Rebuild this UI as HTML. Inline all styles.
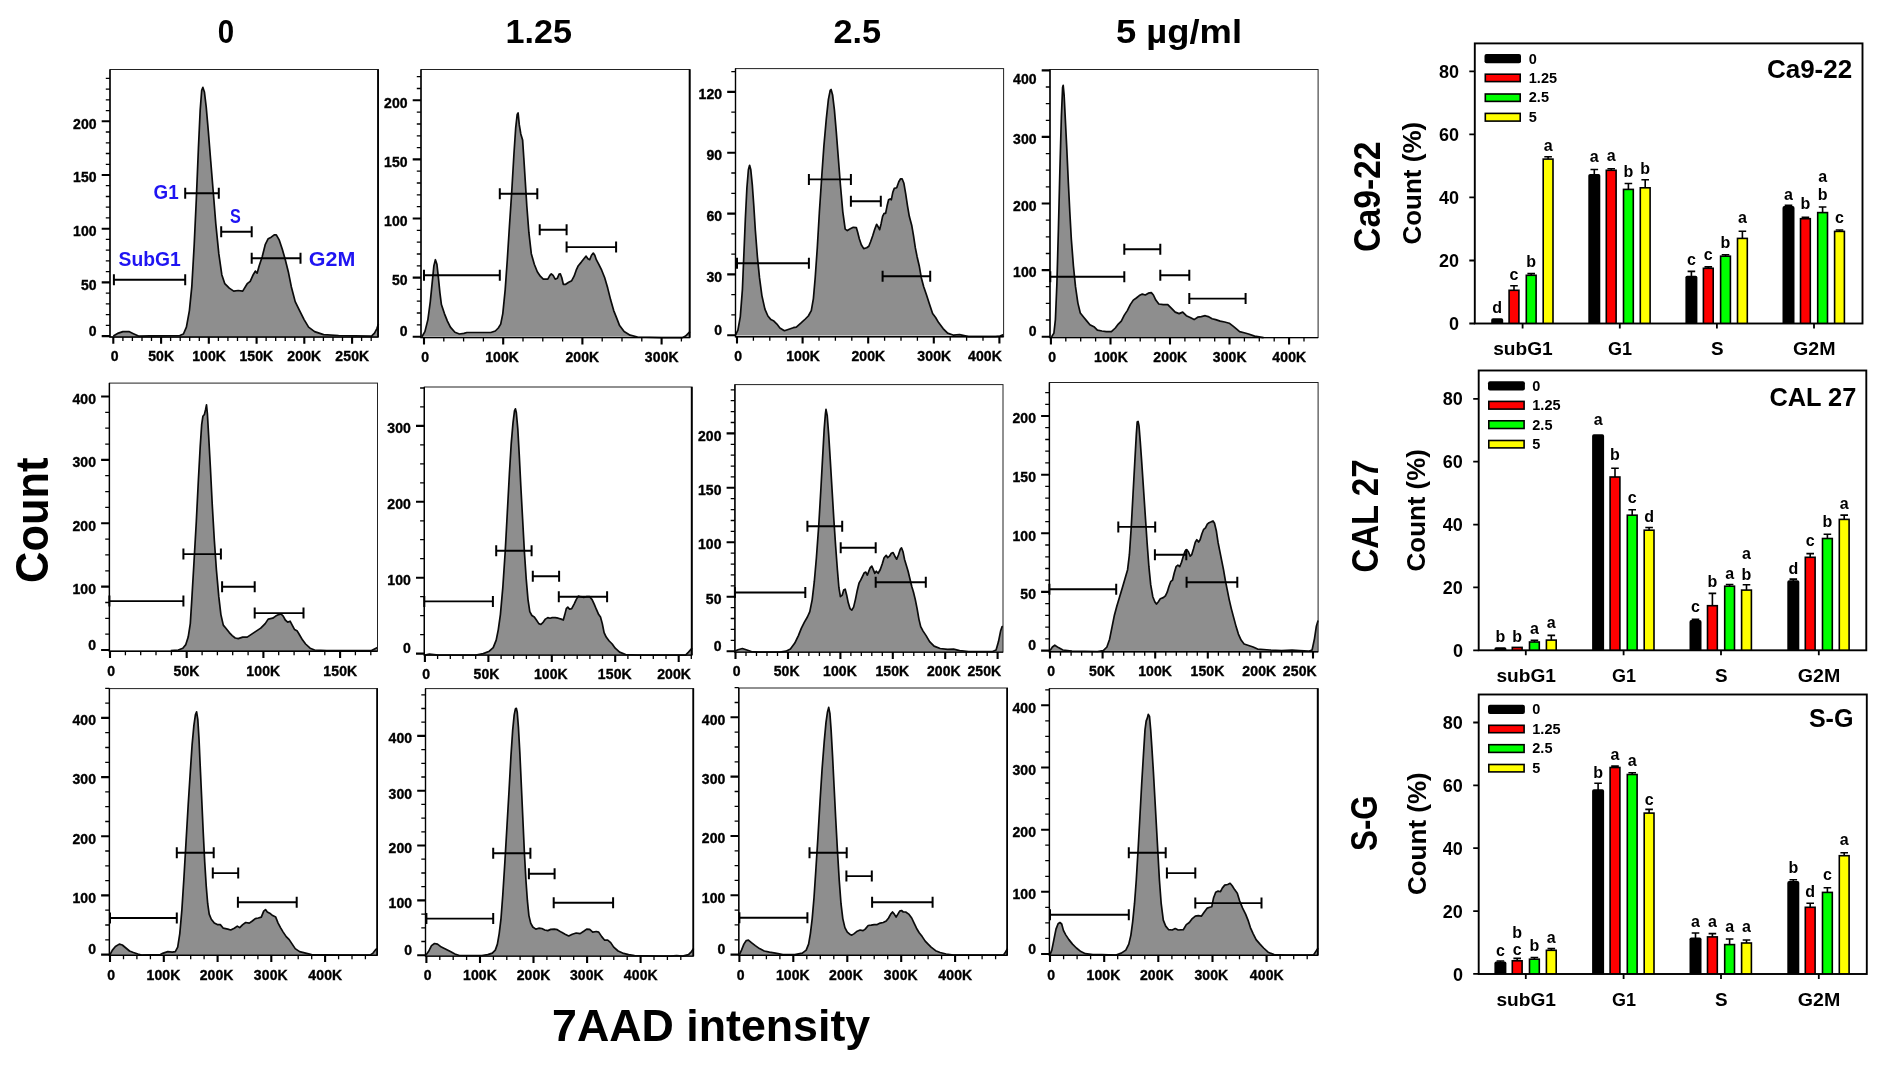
<!DOCTYPE html>
<html lang="en"><head><meta charset="utf-8"><title>Cell cycle analysis</title>
<style>html,body{margin:0;padding:0;background:#fff}svg{display:block;filter:blur(0.5px)}text{font-family:"Liberation Sans",sans-serif;font-weight:bold;fill:#000}.tk{font-size:14px;letter-spacing:0.1px;stroke:#000;stroke-width:0.35px}.bl{fill:#1f14f2}.lt{font-size:16px;text-anchor:middle}.ax{font-size:18px}.ct{font-size:17.5px}.lg{font-size:14.5px}</style></head><body>
<svg width="1878" height="1068" viewBox="0 0 1878 1068">
<rect width="1878" height="1068" fill="#fff"/>
<g id="r1c1">
<path d="M113.3 336.1L113.3 336.1L118.4 333.1L122.9 331.6L128.9 331.6L133.4 333.7L138.5 336.1L149.9 335.8L179.8 335.5L183.4 334L186.4 327.1L189.4 310.6L191.8 286.7L194.2 244.7L196.3 199.8L198.4 148.9L200.2 109.9L201.7 90.4L202.9 87.4L204.4 91.9L206.2 106.9L208.3 130.9L210.7 160.8L213.4 193.8L215.8 223.7L218.8 253.7L221.8 274.7L224.8 283.7L229.3 288.1L233.7 291.1L238.2 290.5L242.7 291.1L247.2 283.7L250.2 281.3L253.2 274.7L255.3 271.1L257.1 273.2L259.2 265.7L262.2 256.7L265.2 244.7L268.2 238.7L271.2 237.2L274.2 234.8L276.3 234.8L279.3 240.2L282.3 249.2L285.3 259.7L288.3 271.7L291.3 286.7L295.2 301.6L299.6 310.6L304.1 319.6L308.6 327.1L314.6 331.6L323.6 334.6L338.6 335.5L371.5 336.1L374.5 333.1L376.9 328.6L378.4 324.1L378.4 336.1Z" fill="#8e8e8e" stroke="none"/>
<path d="M113.3 336.1L118.4 333.1L122.9 331.6L128.9 331.6L133.4 333.7L138.5 336.1L149.9 335.8L179.8 335.5L183.4 334L186.4 327.1L189.4 310.6L191.8 286.7L194.2 244.7L196.3 199.8L198.4 148.9L200.2 109.9L201.7 90.4L202.9 87.4L204.4 91.9L206.2 106.9L208.3 130.9L210.7 160.8L213.4 193.8L215.8 223.7L218.8 253.7L221.8 274.7L224.8 283.7L229.3 288.1L233.7 291.1L238.2 290.5L242.7 291.1L247.2 283.7L250.2 281.3L253.2 274.7L255.3 271.1L257.1 273.2L259.2 265.7L262.2 256.7L265.2 244.7L268.2 238.7L271.2 237.2L274.2 234.8L276.3 234.8L279.3 240.2L282.3 249.2L285.3 259.7L288.3 271.7L291.3 286.7L295.2 301.6L299.6 310.6L304.1 319.6L308.6 327.1L314.6 331.6L323.6 334.6L338.6 335.5L371.5 336.1L374.5 333.1L376.9 328.6L378.4 324.1" fill="none" stroke="#0a0a0a" stroke-width="1.7" stroke-linejoin="round"/>
<rect x="110" y="69.5" width="268.4" height="267.5" fill="none" stroke="#222" stroke-width="1"/>
<path d="M110 69.5V337H378.4" fill="none" stroke="#000" stroke-width="1.4"/>
<path d="M378 69.5V337" fill="none" stroke="#000" stroke-width="1.8"/>
<path d="M110 336.1h-8.3M110 282.4h-8.3M110 228.7h-8.3M110 175h-8.3M110 121.3h-8.3M113.3 337v6.8M161.1 337v6.8M208.8 337v6.8M256.6 337v6.8M304.3 337v6.8M352.1 337v6.8" stroke="#000" stroke-width="2.1" fill="none"/>
<path d="M110 325.3h-4.2M110 314.6h-4.2M110 303.9h-4.2M110 293.1h-4.2M110 271.6h-4.2M110 260.9h-4.2M110 250.2h-4.2M110 239.4h-4.2M110 217.9h-4.2M110 207.2h-4.2M110 196.5h-4.2M110 185.7h-4.2M110 164.3h-4.2M110 153.5h-4.2M110 142.8h-4.2M110 132h-4.2M110 110.6h-4.2M110 99.8h-4.2M110 89.1h-4.2M110 78.3h-4.2M122.9 337v4M132.4 337v4M142 337v4M151.5 337v4M170.6 337v4M180.2 337v4M189.7 337v4M199.3 337v4M218.4 337v4M227.9 337v4M237.5 337v4M247 337v4M266.1 337v4M275.7 337v4M285.2 337v4M294.8 337v4M313.9 337v4M323.4 337v4M333 337v4M342.5 337v4M361.6 337v4M371.2 337v4" stroke="#000" stroke-width="1.3" fill="none"/>
<text class="tk" x="96.7" y="128.5" text-anchor="end">200</text>
<text class="tk" x="96.7" y="181.8" text-anchor="end">150</text>
<text class="tk" x="96.7" y="236" text-anchor="end">100</text>
<text class="tk" x="96.7" y="289.7" text-anchor="end">50</text>
<text class="tk" x="96.7" y="335.8" text-anchor="end">0</text>
<text class="tk" x="114.6" y="361.3" text-anchor="middle">0</text>
<text class="tk" x="161.2" y="361.3" text-anchor="middle">50K</text>
<text class="tk" x="209.1" y="361.3" text-anchor="middle">100K</text>
<text class="tk" x="256.4" y="361.3" text-anchor="middle">150K</text>
<text class="tk" x="304.3" y="361.3" text-anchor="middle">200K</text>
<text class="tk" x="352.3" y="361.3" text-anchor="middle">250K</text>
<path d="M113.9 279.8H185.2M185.2 193.2H218.8M221.2 231.8H251.7M251.7 258.2H300.5" stroke="#000" stroke-width="1.9" fill="none"/>
<path d="M113.9 274.3v11M185.2 274.3v11M185.2 187.7v11M218.8 187.7v11M221.2 226.3v11M251.7 226.3v11M251.7 252.7v11M300.5 252.7v11" stroke="#000" stroke-width="2" fill="none"/>
</g>
<g id="r1c2">
<path d="M421.9 336.7L421.9 336.7L424.9 331.6L427.9 319.6L430.3 301.6L432.4 280.7L433.9 265.7L435.4 259.7L436.9 264.2L438.4 277.7L439.9 292.6L441.4 304.6L444.4 313.6L447.4 321.1L450.4 327.1L454.9 332.2L459.4 334L463.9 333.4L466.9 332.5L490.8 332.5L495.3 331L498.3 328L500.7 324.1L502.8 313.6L505.2 289.6L507.3 259.7L509.4 226.7L511.8 190.8L513.9 154.8L515.7 127.9L517.2 114.4L518.1 112.9L519.3 124.9L520.8 133.9L522.6 139.9L523.8 157.8L525.3 181.8L526.8 205.8L528.9 232.7L531.3 253.7L534.3 264.2L537.3 271.7L540.3 276.2L543.3 279.2L547.8 279.2L549.9 275.3L551.3 273.8L553.1 275.3L555.2 279.2L557.3 278.3L559.1 274.1L560.3 273.8L561.8 277.7L563.3 284.3L565.7 284.3L568.7 282.2L571.7 280.7L574.1 276.2L576.2 270.2L578.3 265.7L581.3 262.1L584.3 258.2L586.1 256.1L587.9 258.8L589.7 259.7L591.5 255.2L593.3 253.1L594.8 255.2L596.3 259.7L598.7 264.2L601.7 270.2L604.7 277.7L607.7 288.1L610.7 300.1L613.7 310.6L616.7 318.1L619.6 325.6L624.1 331.6L630.1 335.2L637.6 337L661.6 337.6L682.6 337.6L685.6 336.1L688.5 333.1L690 331.6L690 336.7Z" fill="#8e8e8e" stroke="none"/>
<path d="M421.9 336.7L424.9 331.6L427.9 319.6L430.3 301.6L432.4 280.7L433.9 265.7L435.4 259.7L436.9 264.2L438.4 277.7L439.9 292.6L441.4 304.6L444.4 313.6L447.4 321.1L450.4 327.1L454.9 332.2L459.4 334L463.9 333.4L466.9 332.5L490.8 332.5L495.3 331L498.3 328L500.7 324.1L502.8 313.6L505.2 289.6L507.3 259.7L509.4 226.7L511.8 190.8L513.9 154.8L515.7 127.9L517.2 114.4L518.1 112.9L519.3 124.9L520.8 133.9L522.6 139.9L523.8 157.8L525.3 181.8L526.8 205.8L528.9 232.7L531.3 253.7L534.3 264.2L537.3 271.7L540.3 276.2L543.3 279.2L547.8 279.2L549.9 275.3L551.3 273.8L553.1 275.3L555.2 279.2L557.3 278.3L559.1 274.1L560.3 273.8L561.8 277.7L563.3 284.3L565.7 284.3L568.7 282.2L571.7 280.7L574.1 276.2L576.2 270.2L578.3 265.7L581.3 262.1L584.3 258.2L586.1 256.1L587.9 258.8L589.7 259.7L591.5 255.2L593.3 253.1L594.8 255.2L596.3 259.7L598.7 264.2L601.7 270.2L604.7 277.7L607.7 288.1L610.7 300.1L613.7 310.6L616.7 318.1L619.6 325.6L624.1 331.6L630.1 335.2L637.6 337L661.6 337.6L682.6 337.6L685.6 336.1L688.5 333.1L690 331.6" fill="none" stroke="#0a0a0a" stroke-width="1.7" stroke-linejoin="round"/>
<rect x="421" y="69.5" width="269" height="268.1" fill="none" stroke="#222" stroke-width="1"/>
<path d="M421 69.5V337.6H690" fill="none" stroke="#000" stroke-width="1.4"/>
<path d="M689.6 69.5V337.6" fill="none" stroke="#000" stroke-width="1.8"/>
<path d="M421 336.7h-8.3M421 277.6h-8.3M421 218.5h-8.3M421 159.4h-8.3M421 100.3h-8.3M424 337.6v6.8M503.2 337.6v6.8M582.4 337.6v6.8M661.6 337.6v6.8" stroke="#000" stroke-width="2.1" fill="none"/>
<path d="M421 324.9h-4.2M421 313h-4.2M421 301.2h-4.2M421 289.4h-4.2M421 265.8h-4.2M421 254h-4.2M421 242.1h-4.2M421 230.3h-4.2M421 206.7h-4.2M421 194.9h-4.2M421 183h-4.2M421 171.2h-4.2M421 147.6h-4.2M421 135.8h-4.2M421 124h-4.2M421 112.1h-4.2M421 88.5h-4.2M421 76.7h-4.2M443.8 337.6v4M463.6 337.6v4M483.4 337.6v4M523 337.6v4M542.8 337.6v4M562.6 337.6v4M602.2 337.6v4M622 337.6v4M641.8 337.6v4M681.4 337.6v4" stroke="#000" stroke-width="1.3" fill="none"/>
<text class="tk" x="407.7" y="107.5" text-anchor="end">200</text>
<text class="tk" x="407.7" y="166.5" text-anchor="end">150</text>
<text class="tk" x="407.7" y="225.9" text-anchor="end">100</text>
<text class="tk" x="407.7" y="285.2" text-anchor="end">50</text>
<text class="tk" x="407.7" y="336.4" text-anchor="end">0</text>
<text class="tk" x="425.3" y="361.9" text-anchor="middle">0</text>
<text class="tk" x="502.1" y="361.9" text-anchor="middle">100K</text>
<text class="tk" x="582.4" y="361.9" text-anchor="middle">200K</text>
<text class="tk" x="661.8" y="361.9" text-anchor="middle">300K</text>
<path d="M424 275.3H499.8M499.8 193.8H537.3M539.7 229.7H566.6M566.6 247.1H616.1" stroke="#000" stroke-width="1.9" fill="none"/>
<path d="M424 269.8v11M499.8 269.8v11M499.8 188.3v11M537.3 188.3v11M539.7 224.2v11M566.6 224.2v11M566.6 241.6v11M616.1 241.6v11" stroke="#000" stroke-width="2" fill="none"/>
</g>
<g id="r1c3">
<path d="M735.5 335.5L735.5 335.2L737.9 330.1L740.3 316.6L742.4 289.6L743.9 253.7L745.4 217.8L746.9 187.8L748.4 169.8L749.6 165.3L750.8 169.8L752.3 184.8L753.8 205.8L755.3 229.7L757.4 256.7L759.5 277.7L761.9 295.6L764.9 309.1L767.9 316L770.9 319.6L773.9 321.1L776.9 324.1L779.9 328L784.4 330.7L788.9 329.2L793.3 327.7L796.3 327.1L800.8 323.2L805.3 319L808.3 316L811.3 310.6L813.4 298.6L815.2 277.7L817.3 247.7L819.4 211.8L821.8 175.8L823.9 145.9L826.3 118.9L828.4 99.4L830.2 90.4L831.1 89.5L832.6 94.9L834.4 109.9L836.2 130.9L838.3 157.8L840.4 184.8L842.8 211.8L845.2 229.1L847.3 230.6L850.3 228.8L853.3 227.3L856.3 227.6L857.8 232.7L859.3 238.7L861.3 244.7L863.7 248.6L866.7 247.7L868.8 246.2L870.6 241.7L872.7 235.7L874.8 229.1L876.6 224.3L878.1 226.7L879.6 229.7L881.1 223.7L882.6 216.3L884.1 213.3L885.6 213.3L887.1 205.8L888.6 199.8L890.1 198.9L891.3 199.8L892.8 192.3L894.3 188.4L896.7 187.8L898.8 181.8L900.6 178.8L902.1 178.8L903.9 183.3L905.7 193.8L907.5 205.8L909.3 216.3L911.7 225.2L913.5 235.7L915.3 247.7L917.1 256.7L919.2 265.7L921.3 277.7L923.7 286.7L926.7 295.6L929.6 304.6L932.6 313.6L935.6 317.5L938.6 322.6L943.1 328.6L947.6 333.1L953.6 335.2L959.6 334.6L968.6 336.7L995.6 336.7L1000 336.1L1003.6 334.6L1003.6 335.5Z" fill="#8e8e8e" stroke="none"/>
<path d="M735.5 335.2L737.9 330.1L740.3 316.6L742.4 289.6L743.9 253.7L745.4 217.8L746.9 187.8L748.4 169.8L749.6 165.3L750.8 169.8L752.3 184.8L753.8 205.8L755.3 229.7L757.4 256.7L759.5 277.7L761.9 295.6L764.9 309.1L767.9 316L770.9 319.6L773.9 321.1L776.9 324.1L779.9 328L784.4 330.7L788.9 329.2L793.3 327.7L796.3 327.1L800.8 323.2L805.3 319L808.3 316L811.3 310.6L813.4 298.6L815.2 277.7L817.3 247.7L819.4 211.8L821.8 175.8L823.9 145.9L826.3 118.9L828.4 99.4L830.2 90.4L831.1 89.5L832.6 94.9L834.4 109.9L836.2 130.9L838.3 157.8L840.4 184.8L842.8 211.8L845.2 229.1L847.3 230.6L850.3 228.8L853.3 227.3L856.3 227.6L857.8 232.7L859.3 238.7L861.3 244.7L863.7 248.6L866.7 247.7L868.8 246.2L870.6 241.7L872.7 235.7L874.8 229.1L876.6 224.3L878.1 226.7L879.6 229.7L881.1 223.7L882.6 216.3L884.1 213.3L885.6 213.3L887.1 205.8L888.6 199.8L890.1 198.9L891.3 199.8L892.8 192.3L894.3 188.4L896.7 187.8L898.8 181.8L900.6 178.8L902.1 178.8L903.9 183.3L905.7 193.8L907.5 205.8L909.3 216.3L911.7 225.2L913.5 235.7L915.3 247.7L917.1 256.7L919.2 265.7L921.3 277.7L923.7 286.7L926.7 295.6L929.6 304.6L932.6 313.6L935.6 317.5L938.6 322.6L943.1 328.6L947.6 333.1L953.6 335.2L959.6 334.6L968.6 336.7L995.6 336.7L1000 336.1L1003.6 334.6" fill="none" stroke="#0a0a0a" stroke-width="1.7" stroke-linejoin="round"/>
<rect x="735.5" y="68.6" width="268.1" height="268.1" fill="none" stroke="#222" stroke-width="1"/>
<path d="M735.5 68.6V336.7H1003.6" fill="none" stroke="#000" stroke-width="1.4"/>
<path d="M735.5 335.2h-8.3M735.5 274.4h-8.3M735.5 213.6h-8.3M735.5 152.7h-8.3M735.5 91.9h-8.3M737 336.7v6.8M802.6 336.7v6.8M868.2 336.7v6.8M933.8 336.7v6.8M999.4 336.7v6.8" stroke="#000" stroke-width="2.1" fill="none"/>
<path d="M735.5 314.9h-4.2M735.5 294.6h-4.2M735.5 254.1h-4.2M735.5 233.8h-4.2M735.5 193.3h-4.2M735.5 173h-4.2M735.5 132.5h-4.2M735.5 112.2h-4.2M735.5 71.7h-4.2M753.4 336.7v4M769.8 336.7v4M786.2 336.7v4M819 336.7v4M835.4 336.7v4M851.8 336.7v4M884.6 336.7v4M901 336.7v4M917.4 336.7v4M950.2 336.7v4M966.6 336.7v4M983 336.7v4" stroke="#000" stroke-width="1.3" fill="none"/>
<text class="tk" x="722.2" y="99.1" text-anchor="end">120</text>
<text class="tk" x="722.2" y="159.9" text-anchor="end">90</text>
<text class="tk" x="722.2" y="221.1" text-anchor="end">60</text>
<text class="tk" x="722.2" y="281.9" text-anchor="end">30</text>
<text class="tk" x="722.2" y="334.9" text-anchor="end">0</text>
<text class="tk" x="738.3" y="361" text-anchor="middle">0</text>
<text class="tk" x="803.1" y="361" text-anchor="middle">100K</text>
<text class="tk" x="868.4" y="361" text-anchor="middle">200K</text>
<text class="tk" x="934.3" y="361" text-anchor="middle">300K</text>
<text class="tk" x="985" y="361" text-anchor="middle">400K</text>
<path d="M737 263.3H808.9M808.9 179.4H850.9M850.9 201.3H880.8M882.6 276.2H930.2" stroke="#000" stroke-width="1.9" fill="none"/>
<path d="M737 257.8v11M808.9 257.8v11M808.9 173.9v11M850.9 173.9v11M850.9 195.8v11M880.8 195.8v11M882.6 270.7v11M930.2 270.7v11" stroke="#000" stroke-width="2" fill="none"/>
</g>
<g id="r1c4">
<path d="M1051.5 337L1051.5 337L1053.9 333.1L1055.4 319.6L1056.9 283.7L1058.4 229.7L1059.9 169.8L1061.4 115.9L1062.6 87.4L1063.2 85.3L1064.1 94.9L1065.3 118.9L1066.8 148.9L1068.3 181.8L1069.8 211.8L1071.3 238.7L1073.4 265.7L1075.5 286.7L1077.9 303.1L1080.3 313L1083.9 317.5L1086.9 321.1L1089.9 324.7L1094.4 327.1L1097.4 330.1L1101.9 331L1106.3 331.6L1111.4 331.6L1115.3 328L1118.3 324.1L1121.3 321.1L1124.3 315.1L1127.3 310.6L1130.3 304.6L1133.3 300.1L1136.3 298L1139.3 295.6L1142.3 294.1L1145.3 295L1148.3 293.2L1151.3 292.6L1153.4 295L1155.8 300.1L1158.8 304L1163.3 304.6L1167.8 304.6L1171.3 308.2L1175.2 312.1L1179.1 313.6L1182.7 312.1L1186.3 315.7L1190.2 317.5L1194.1 319.6L1197.7 317.2L1201.3 316.6L1205.2 315.7L1208.2 316.6L1212.1 318.7L1215.7 319.6L1220.2 321.1L1224.7 322L1229.2 323.2L1233.1 326.2L1236.7 329.2L1239.6 331.6L1244.1 332.8L1248.6 334L1254.6 336.1L1263.6 337.6L1263.6 337Z" fill="#8e8e8e" stroke="none"/>
<path d="M1051.5 337L1053.9 333.1L1055.4 319.6L1056.9 283.7L1058.4 229.7L1059.9 169.8L1061.4 115.9L1062.6 87.4L1063.2 85.3L1064.1 94.9L1065.3 118.9L1066.8 148.9L1068.3 181.8L1069.8 211.8L1071.3 238.7L1073.4 265.7L1075.5 286.7L1077.9 303.1L1080.3 313L1083.9 317.5L1086.9 321.1L1089.9 324.7L1094.4 327.1L1097.4 330.1L1101.9 331L1106.3 331.6L1111.4 331.6L1115.3 328L1118.3 324.1L1121.3 321.1L1124.3 315.1L1127.3 310.6L1130.3 304.6L1133.3 300.1L1136.3 298L1139.3 295.6L1142.3 294.1L1145.3 295L1148.3 293.2L1151.3 292.6L1153.4 295L1155.8 300.1L1158.8 304L1163.3 304.6L1167.8 304.6L1171.3 308.2L1175.2 312.1L1179.1 313.6L1182.7 312.1L1186.3 315.7L1190.2 317.5L1194.1 319.6L1197.7 317.2L1201.3 316.6L1205.2 315.7L1208.2 316.6L1212.1 318.7L1215.7 319.6L1220.2 321.1L1224.7 322L1229.2 323.2L1233.1 326.2L1236.7 329.2L1239.6 331.6L1244.1 332.8L1248.6 334L1254.6 336.1L1263.6 337.6" fill="none" stroke="#0a0a0a" stroke-width="1.7" stroke-linejoin="round"/>
<rect x="1050" y="69.5" width="268.1" height="268.1" fill="none" stroke="#222" stroke-width="1"/>
<path d="M1050 69.5V337.6H1318.1" fill="none" stroke="#000" stroke-width="1.4"/>
<path d="M1050 336.7h-8.3M1050 270.1h-8.3M1050 203.5h-8.3M1050 136.9h-8.3M1050 70.4h-8.3M1050.9 337.6v6.8M1110.5 337.6v6.8M1170 337.6v6.8M1229.5 337.6v6.8M1289.1 337.6v6.8" stroke="#000" stroke-width="2.1" fill="none"/>
<path d="M1050 320h-4.2M1050 303.4h-4.2M1050 286.7h-4.2M1050 253.5h-4.2M1050 236.8h-4.2M1050 220.2h-4.2M1050 186.9h-4.2M1050 170.2h-4.2M1050 153.6h-4.2M1050 120.3h-4.2M1050 103.7h-4.2M1050 87h-4.2M1065.8 337.6v4M1080.7 337.6v4M1095.6 337.6v4M1125.3 337.6v4M1140.2 337.6v4M1155.1 337.6v4M1184.9 337.6v4M1199.8 337.6v4M1214.7 337.6v4M1244.4 337.6v4M1259.3 337.6v4M1274.2 337.6v4M1304 337.6v4" stroke="#000" stroke-width="1.3" fill="none"/>
<text class="tk" x="1036.7" y="84.2" text-anchor="end">400</text>
<text class="tk" x="1036.7" y="144.1" text-anchor="end">300</text>
<text class="tk" x="1036.7" y="210.6" text-anchor="end">200</text>
<text class="tk" x="1036.7" y="277.4" text-anchor="end">100</text>
<text class="tk" x="1036.7" y="336.4" text-anchor="end">0</text>
<text class="tk" x="1052.2" y="361.9" text-anchor="middle">0</text>
<text class="tk" x="1111" y="361.9" text-anchor="middle">100K</text>
<text class="tk" x="1170.3" y="361.9" text-anchor="middle">200K</text>
<text class="tk" x="1229.7" y="361.9" text-anchor="middle">300K</text>
<text class="tk" x="1289.3" y="361.9" text-anchor="middle">400K</text>
<path d="M1050.3 276.8H1124.3M1124.3 249.2H1160.3M1160.3 275.3H1189.3M1189.3 298.6H1245.6" stroke="#000" stroke-width="1.9" fill="none"/>
<path d="M1050.3 271.3v11M1124.3 271.3v11M1124.3 243.7v11M1160.3 243.7v11M1160.3 269.8v11M1189.3 269.8v11M1189.3 293.1v11M1245.6 293.1v11" stroke="#000" stroke-width="2" fill="none"/>
</g>
<g id="r2c1">
<path d="M170.8 650.9L170.8 650.6L178.3 650L182.8 648.2L185.8 644.6L188.2 637.1L190.3 623.6L191.8 599.6L193.9 563.7L196.3 521.8L198.4 479.8L200.2 446.9L201.7 424.4L202.9 416.3L204.4 414.5L205.6 409.4L206.5 404.9L207.4 413.9L208.6 434.9L210.4 467.8L212.2 503.8L214.3 539.7L216.4 569.7L218.8 596.7L220.9 614.6L223.3 625.1L226.3 628.7L229.3 632.6L232.2 635.6L235.2 638L238.2 638.6L242.7 637.1L247.2 637.1L251.7 634.1L256.2 631.1L260.7 628.1L265.2 623.6L268.2 619.1L272.7 618.2L275.7 616.1L278.7 614.6L281.1 614L283.2 616.1L285.3 620L287.7 622.1L290.1 621.2L292.2 625.1L294.6 629.6L297.3 631.1L299.6 635L302.6 640.1L305.6 644L310.1 648.2L314.6 650L326.6 650.6L371.5 650.6L374.5 649.1L377.5 647.6L377.5 650.9Z" fill="#8e8e8e" stroke="none"/>
<path d="M170.8 650.6L178.3 650L182.8 648.2L185.8 644.6L188.2 637.1L190.3 623.6L191.8 599.6L193.9 563.7L196.3 521.8L198.4 479.8L200.2 446.9L201.7 424.4L202.9 416.3L204.4 414.5L205.6 409.4L206.5 404.9L207.4 413.9L208.6 434.9L210.4 467.8L212.2 503.8L214.3 539.7L216.4 569.7L218.8 596.7L220.9 614.6L223.3 625.1L226.3 628.7L229.3 632.6L232.2 635.6L235.2 638L238.2 638.6L242.7 637.1L247.2 637.1L251.7 634.1L256.2 631.1L260.7 628.1L265.2 623.6L268.2 619.1L272.7 618.2L275.7 616.1L278.7 614.6L281.1 614L283.2 616.1L285.3 620L287.7 622.1L290.1 621.2L292.2 625.1L294.6 629.6L297.3 631.1L299.6 635L302.6 640.1L305.6 644L310.1 648.2L314.6 650L326.6 650.6L371.5 650.6L374.5 649.1L377.5 647.6" fill="none" stroke="#0a0a0a" stroke-width="1.7" stroke-linejoin="round"/>
<rect x="109.4" y="383.1" width="268.1" height="268.1" fill="none" stroke="#222" stroke-width="1"/>
<path d="M109.4 383.1V651.2H377.5" fill="none" stroke="#000" stroke-width="1.4"/>
<path d="M109.4 650h-8.3M109.4 586.6h-8.3M109.4 523.3h-8.3M109.4 459.9h-8.3M109.4 396.5h-8.3M110 651.2v6.8M186.7 651.2v6.8M263.4 651.2v6.8M340.1 651.2v6.8" stroke="#000" stroke-width="2.1" fill="none"/>
<path d="M109.4 634.1h-4.2M109.4 618.3h-4.2M109.4 602.5h-4.2M109.4 570.8h-4.2M109.4 554.9h-4.2M109.4 539.1h-4.2M109.4 507.4h-4.2M109.4 491.6h-4.2M109.4 475.7h-4.2M109.4 444.1h-4.2M109.4 428.2h-4.2M109.4 412.4h-4.2M125.4 651.2v4M140.7 651.2v4M156 651.2v4M171.4 651.2v4M202.1 651.2v4M217.4 651.2v4M232.7 651.2v4M248.1 651.2v4M278.7 651.2v4M294.1 651.2v4M309.4 651.2v4M324.8 651.2v4M355.4 651.2v4M370.8 651.2v4" stroke="#000" stroke-width="1.3" fill="none"/>
<text class="tk" x="96.1" y="403.7" text-anchor="end">400</text>
<text class="tk" x="96.1" y="467" text-anchor="end">300</text>
<text class="tk" x="96.1" y="530.8" text-anchor="end">200</text>
<text class="tk" x="96.1" y="594" text-anchor="end">100</text>
<text class="tk" x="96.1" y="649.7" text-anchor="end">0</text>
<text class="tk" x="111.3" y="675.5" text-anchor="middle">0</text>
<text class="tk" x="186.6" y="675.5" text-anchor="middle">50K</text>
<text class="tk" x="263.3" y="675.5" text-anchor="middle">100K</text>
<text class="tk" x="340.3" y="675.5" text-anchor="middle">150K</text>
<path d="M109.4 601.1H183.4M183.4 554.1H220.9M222.1 586.8H254.7M254.7 613.1H303.5" stroke="#000" stroke-width="1.9" fill="none"/>
<path d="M109.4 595.6v11M183.4 595.6v11M183.4 548.6v11M220.9 548.6v11M222.1 581.3v11M254.7 581.3v11M254.7 607.6v11M303.5 607.6v11" stroke="#000" stroke-width="2" fill="none"/>
</g>
<g id="r2c2">
<path d="M424.9 654.8L424.9 655.1L429.4 654.2L438.4 655.1L475.9 655.1L483.3 653.6L489.3 651.2L493.2 647.6L496.2 640.1L498.3 629.6L500.4 614.6L502.8 587.7L505.2 551.7L507.3 512.8L509.4 473.8L511.2 443.9L513 422.9L514.5 410.9L515.4 408.8L516.3 412.4L517.8 428.9L519.3 455.9L520.8 485.8L522.6 518.8L524.4 551.7L526.2 578.7L528 599.6L529.8 611.6L531.9 615.5L534.3 617L536.4 620L538.8 623.6L540.9 624.5L543.3 622.1L545.4 619.1L547.8 617.6L550.1 618.2L552.2 617.6L555.2 617.6L558.2 618.2L561.2 619.1L563.3 620L564.8 614.6L566.3 608.6L567.8 607.1L569.6 609.2L571.7 608.6L574.1 604.1L576.2 599.6L578.3 596.1L580.7 596.7L583.7 597.3L586.7 596.7L589.7 596.7L592.1 599.6L594.2 604.1L596.3 609.2L598.7 614.6L600.5 617L602.3 623.6L604.1 632.6L606.2 637.1L609.2 641L612.2 644L615.2 648.2L619.6 652.1L625.6 654.5L637.6 655.1L685.6 655.1L688.5 652.1L692.1 648.2L692.1 654.8Z" fill="#8e8e8e" stroke="none"/>
<path d="M424.9 655.1L429.4 654.2L438.4 655.1L475.9 655.1L483.3 653.6L489.3 651.2L493.2 647.6L496.2 640.1L498.3 629.6L500.4 614.6L502.8 587.7L505.2 551.7L507.3 512.8L509.4 473.8L511.2 443.9L513 422.9L514.5 410.9L515.4 408.8L516.3 412.4L517.8 428.9L519.3 455.9L520.8 485.8L522.6 518.8L524.4 551.7L526.2 578.7L528 599.6L529.8 611.6L531.9 615.5L534.3 617L536.4 620L538.8 623.6L540.9 624.5L543.3 622.1L545.4 619.1L547.8 617.6L550.1 618.2L552.2 617.6L555.2 617.6L558.2 618.2L561.2 619.1L563.3 620L564.8 614.6L566.3 608.6L567.8 607.1L569.6 609.2L571.7 608.6L574.1 604.1L576.2 599.6L578.3 596.1L580.7 596.7L583.7 597.3L586.7 596.7L589.7 596.7L592.1 599.6L594.2 604.1L596.3 609.2L598.7 614.6L600.5 617L602.3 623.6L604.1 632.6L606.2 637.1L609.2 641L612.2 644L615.2 648.2L619.6 652.1L625.6 654.5L637.6 655.1L685.6 655.1L688.5 652.1L692.1 648.2" fill="none" stroke="#0a0a0a" stroke-width="1.7" stroke-linejoin="round"/>
<rect x="424.3" y="387" width="267.8" height="268.1" fill="none" stroke="#222" stroke-width="1"/>
<path d="M424.3 387V655.1H692.1" fill="none" stroke="#000" stroke-width="1.4"/>
<path d="M691.7 387V655.1" fill="none" stroke="#000" stroke-width="1.8"/>
<path d="M424.3 653.6h-8.3M424.3 577.7h-8.3M424.3 501.8h-8.3M424.3 425.9h-8.3M424.9 655.1v6.8M488.4 655.1v6.8M551.8 655.1v6.8M615.2 655.1v6.8M678.7 655.1v6.8" stroke="#000" stroke-width="2.1" fill="none"/>
<path d="M424.3 634.6h-4.2M424.3 615.6h-4.2M424.3 596.7h-4.2M424.3 558.7h-4.2M424.3 539.7h-4.2M424.3 520.8h-4.2M424.3 482.8h-4.2M424.3 463.8h-4.2M424.3 444.9h-4.2M424.3 406.9h-4.2M424.3 388h-4.2M437.6 655.1v4M450.3 655.1v4M463 655.1v4M475.7 655.1v4M501.1 655.1v4M513.7 655.1v4M526.4 655.1v4M539.1 655.1v4M564.5 655.1v4M577.2 655.1v4M589.9 655.1v4M602.5 655.1v4M627.9 655.1v4M640.6 655.1v4M653.3 655.1v4M666 655.1v4M691.3 655.1v4" stroke="#000" stroke-width="1.3" fill="none"/>
<text class="tk" x="411" y="433.1" text-anchor="end">300</text>
<text class="tk" x="411" y="508.9" text-anchor="end">200</text>
<text class="tk" x="411" y="585.3" text-anchor="end">100</text>
<text class="tk" x="411" y="653.3" text-anchor="end">0</text>
<text class="tk" x="426.2" y="679.4" text-anchor="middle">0</text>
<text class="tk" x="486.5" y="679.4" text-anchor="middle">50K</text>
<text class="tk" x="550.9" y="679.4" text-anchor="middle">100K</text>
<text class="tk" x="614.8" y="679.4" text-anchor="middle">150K</text>
<text class="tk" x="674.1" y="679.4" text-anchor="middle">200K</text>
<path d="M424.3 601.4H492.9M496.2 550.8H531.6M532.8 576.3H559.1M558.8 596.7H607.1" stroke="#000" stroke-width="1.9" fill="none"/>
<path d="M424.3 595.9v11M492.9 595.9v11M496.2 545.3v11M531.6 545.3v11M532.8 570.8v11M559.1 570.8v11M558.8 591.2v11M607.1 591.2v11" stroke="#000" stroke-width="2" fill="none"/>
</g>
<g id="r2c3">
<path d="M734.9 651.5L734.9 651.2L737.9 649.7L742.4 648.5L746.9 650L751.4 651.5L758.9 652.1L779.9 652.1L785.9 651.2L790.4 649.1L794.8 643.1L798.4 635.6L801.4 628.1L804.4 622.1L807.4 617L809.8 611.6L812.2 599.6L814.3 581.7L816.4 557.7L818.8 524.8L820.9 488.8L822.7 455.9L824.2 428.9L825.4 413.9L826 409.4L827.2 415.4L828.7 434.9L830.2 458.9L832 488.8L833.8 518.8L835.6 545.7L837.4 569.7L838.9 587.7L840.4 596.7L842.2 595.2L843.7 590.1L845.2 589.2L846.7 595.2L848.2 602.6L850 608.6L851.8 610.1L853.6 607.1L855.4 599.6L857.2 590.7L859 583.2L860.7 580.2L862.5 576.3L864.3 572.7L865.8 572.1L867.3 575.1L868.8 571.2L870.3 567.6L871.8 566.1L873.3 569.7L874.8 573.3L876.3 571.2L878.1 573.3L880.2 569.7L882.3 563.7L884.1 557.7L886.2 555.3L887.7 557.7L889.5 556.2L891.3 553.2L893.1 552.6L894.9 556.2L896.7 559.2L898.5 554.7L900.3 549.3L901.5 547.8L903 551.7L904.5 559.2L906.3 565.2L908.1 571.2L909.9 578.7L911.7 586.2L913.5 592.2L915.3 599.6L917.1 608.6L918.9 619.1L920.7 626.6L923.1 631.1L926.1 635.6L929.6 641.6L934.1 646.1L940.1 648.5L947.6 649.4L953.6 649.1L959.6 650.6L968.6 651.5L992.6 651.5L996.1 650L998.5 641.6L1000.6 631.1L1002.1 626.6L1003 626.6L1003 651.5Z" fill="#8e8e8e" stroke="none"/>
<path d="M734.9 651.2L737.9 649.7L742.4 648.5L746.9 650L751.4 651.5L758.9 652.1L779.9 652.1L785.9 651.2L790.4 649.1L794.8 643.1L798.4 635.6L801.4 628.1L804.4 622.1L807.4 617L809.8 611.6L812.2 599.6L814.3 581.7L816.4 557.7L818.8 524.8L820.9 488.8L822.7 455.9L824.2 428.9L825.4 413.9L826 409.4L827.2 415.4L828.7 434.9L830.2 458.9L832 488.8L833.8 518.8L835.6 545.7L837.4 569.7L838.9 587.7L840.4 596.7L842.2 595.2L843.7 590.1L845.2 589.2L846.7 595.2L848.2 602.6L850 608.6L851.8 610.1L853.6 607.1L855.4 599.6L857.2 590.7L859 583.2L860.7 580.2L862.5 576.3L864.3 572.7L865.8 572.1L867.3 575.1L868.8 571.2L870.3 567.6L871.8 566.1L873.3 569.7L874.8 573.3L876.3 571.2L878.1 573.3L880.2 569.7L882.3 563.7L884.1 557.7L886.2 555.3L887.7 557.7L889.5 556.2L891.3 553.2L893.1 552.6L894.9 556.2L896.7 559.2L898.5 554.7L900.3 549.3L901.5 547.8L903 551.7L904.5 559.2L906.3 565.2L908.1 571.2L909.9 578.7L911.7 586.2L913.5 592.2L915.3 599.6L917.1 608.6L918.9 619.1L920.7 626.6L923.1 631.1L926.1 635.6L929.6 641.6L934.1 646.1L940.1 648.5L947.6 649.4L953.6 649.1L959.6 650.6L968.6 651.5L992.6 651.5L996.1 650L998.5 641.6L1000.6 631.1L1002.1 626.6L1003 626.6" fill="none" stroke="#0a0a0a" stroke-width="1.7" stroke-linejoin="round"/>
<rect x="734.9" y="384.6" width="268.1" height="267.5" fill="none" stroke="#222" stroke-width="1"/>
<path d="M734.9 384.6V652.1H1003" fill="none" stroke="#000" stroke-width="1.4"/>
<path d="M734.9 651.2h-8.3M734.9 596.7h-8.3M734.9 542.3h-8.3M734.9 487.8h-8.3M734.9 433.4h-8.3M735.5 652.1v6.8M788 652.1v6.8M840.4 652.1v6.8M892.8 652.1v6.8M945.2 652.1v6.8M997.6 652.1v6.8" stroke="#000" stroke-width="2.1" fill="none"/>
<path d="M734.9 640.3h-4.2M734.9 629.4h-4.2M734.9 618.5h-4.2M734.9 607.6h-4.2M734.9 585.8h-4.2M734.9 574.9h-4.2M734.9 564.1h-4.2M734.9 553.2h-4.2M734.9 531.4h-4.2M734.9 520.5h-4.2M734.9 509.6h-4.2M734.9 498.7h-4.2M734.9 476.9h-4.2M734.9 466.1h-4.2M734.9 455.2h-4.2M734.9 444.3h-4.2M734.9 422.5h-4.2M734.9 411.6h-4.2M734.9 400.7h-4.2M734.9 389.8h-4.2M746 652.1v4M756.5 652.1v4M767 652.1v4M777.5 652.1v4M798.4 652.1v4M808.9 652.1v4M819.4 652.1v4M829.9 652.1v4M850.9 652.1v4M861.3 652.1v4M871.8 652.1v4M882.3 652.1v4M903.3 652.1v4M913.8 652.1v4M924.3 652.1v4M934.7 652.1v4M955.7 652.1v4M966.2 652.1v4M976.7 652.1v4M987.2 652.1v4" stroke="#000" stroke-width="1.3" fill="none"/>
<text class="tk" x="721.6" y="440.6" text-anchor="end">200</text>
<text class="tk" x="721.6" y="495.1" text-anchor="end">150</text>
<text class="tk" x="721.6" y="549.3" text-anchor="end">100</text>
<text class="tk" x="721.6" y="603.9" text-anchor="end">50</text>
<text class="tk" x="721.6" y="650.9" text-anchor="end">0</text>
<text class="tk" x="736.8" y="676.4" text-anchor="middle">0</text>
<text class="tk" x="786.7" y="676.4" text-anchor="middle">50K</text>
<text class="tk" x="840" y="676.4" text-anchor="middle">100K</text>
<text class="tk" x="892.4" y="676.4" text-anchor="middle">150K</text>
<text class="tk" x="943.9" y="676.4" text-anchor="middle">200K</text>
<text class="tk" x="984.4" y="676.4" text-anchor="middle">250K</text>
<path d="M734.9 592.5H805.3M807.4 526.3H842.2M840.7 547.8H875.7M875.7 582.3H925.8" stroke="#000" stroke-width="1.9" fill="none"/>
<path d="M734.9 587v11M805.3 587v11M807.4 520.8v11M842.2 520.8v11M840.7 542.3v11M875.7 542.3v11M875.7 576.8v11M925.8 576.8v11" stroke="#000" stroke-width="2" fill="none"/>
</g>
<g id="r2c4">
<path d="M1050 651.5L1050 650.6L1052.4 647L1054.8 645.2L1058.4 647.6L1062.9 650L1071.9 651.2L1097.4 651.5L1103.3 650.6L1106.9 647L1109.6 639.2L1112 627.2L1114.4 615.2L1116.8 606.2L1119.5 597.3L1122.2 588.3L1124.9 579L1127.6 569.7L1129.4 554.7L1131.2 527.8L1133 494.8L1134.8 461.9L1136.3 434.9L1137.2 422L1138.1 421.4L1139 425.9L1140.2 440.9L1141.7 461.9L1143.5 488.8L1145.3 515.8L1147.1 542.7L1148.9 566.7L1150.7 584.7L1152.8 596.7L1154.9 602L1156.4 604.1L1158.2 602L1160.3 598.7L1163.3 597.6L1165.4 595.8L1167.2 592.2L1169 586.2L1170.7 581.7L1172.5 580.2L1174.3 572.7L1176.1 566.7L1177.9 565.2L1179.7 566.7L1181.5 562.2L1183.3 556.2L1185.1 551.1L1186.6 549.6L1188.4 551.7L1190.2 556.2L1191.7 554.7L1193.5 548.7L1195.3 542.1L1196.8 539.7L1198.6 542.1L1200.1 539.7L1201.9 533.7L1203.7 529.3L1205.5 527.8L1207.3 524.2L1209.1 522.7L1211.2 521.8L1213 520.9L1214.5 523.3L1216.3 530.7L1218.1 542.7L1219.9 551.7L1221.7 560.7L1223.5 569.7L1225.3 580.2L1227.1 589.2L1229.2 599.6L1231.3 608.6L1233.7 617.6L1236.1 626.6L1238.4 634.1L1241.1 640.1L1244.1 644L1248.6 645.5L1253.1 647L1257.6 649.1L1269.6 650L1281.6 650.6L1292.1 650L1299.6 650.6L1308.5 651.2L1312.1 650L1314.5 638.6L1316.3 626.6L1318.1 620.6L1318.1 651.5Z" fill="#8e8e8e" stroke="none"/>
<path d="M1050 650.6L1052.4 647L1054.8 645.2L1058.4 647.6L1062.9 650L1071.9 651.2L1097.4 651.5L1103.3 650.6L1106.9 647L1109.6 639.2L1112 627.2L1114.4 615.2L1116.8 606.2L1119.5 597.3L1122.2 588.3L1124.9 579L1127.6 569.7L1129.4 554.7L1131.2 527.8L1133 494.8L1134.8 461.9L1136.3 434.9L1137.2 422L1138.1 421.4L1139 425.9L1140.2 440.9L1141.7 461.9L1143.5 488.8L1145.3 515.8L1147.1 542.7L1148.9 566.7L1150.7 584.7L1152.8 596.7L1154.9 602L1156.4 604.1L1158.2 602L1160.3 598.7L1163.3 597.6L1165.4 595.8L1167.2 592.2L1169 586.2L1170.7 581.7L1172.5 580.2L1174.3 572.7L1176.1 566.7L1177.9 565.2L1179.7 566.7L1181.5 562.2L1183.3 556.2L1185.1 551.1L1186.6 549.6L1188.4 551.7L1190.2 556.2L1191.7 554.7L1193.5 548.7L1195.3 542.1L1196.8 539.7L1198.6 542.1L1200.1 539.7L1201.9 533.7L1203.7 529.3L1205.5 527.8L1207.3 524.2L1209.1 522.7L1211.2 521.8L1213 520.9L1214.5 523.3L1216.3 530.7L1218.1 542.7L1219.9 551.7L1221.7 560.7L1223.5 569.7L1225.3 580.2L1227.1 589.2L1229.2 599.6L1231.3 608.6L1233.7 617.6L1236.1 626.6L1238.4 634.1L1241.1 640.1L1244.1 644L1248.6 645.5L1253.1 647L1257.6 649.1L1269.6 650L1281.6 650.6L1292.1 650L1299.6 650.6L1308.5 651.2L1312.1 650L1314.5 638.6L1316.3 626.6L1318.1 620.6" fill="none" stroke="#0a0a0a" stroke-width="1.7" stroke-linejoin="round"/>
<rect x="1049.4" y="382.5" width="268.7" height="269.3" fill="none" stroke="#222" stroke-width="1"/>
<path d="M1049.4 382.5V651.8H1318.1" fill="none" stroke="#000" stroke-width="1.4"/>
<path d="M1049.4 650.6h-8.3M1049.4 591.9h-8.3M1049.4 533.3h-8.3M1049.4 474.7h-8.3M1049.4 416h-8.3M1050 651.8v6.8M1102.6 651.8v6.8M1155.2 651.8v6.8M1207.8 651.8v6.8M1260.4 651.8v6.8M1313 651.8v6.8" stroke="#000" stroke-width="2.1" fill="none"/>
<path d="M1049.4 638.8h-4.2M1049.4 627.1h-4.2M1049.4 615.4h-4.2M1049.4 603.7h-4.2M1049.4 580.2h-4.2M1049.4 568.5h-4.2M1049.4 556.8h-4.2M1049.4 545h-4.2M1049.4 521.6h-4.2M1049.4 509.8h-4.2M1049.4 498.1h-4.2M1049.4 486.4h-4.2M1049.4 462.9h-4.2M1049.4 451.2h-4.2M1049.4 439.5h-4.2M1049.4 427.7h-4.2M1049.4 404.3h-4.2M1049.4 392.6h-4.2M1060.5 651.8v4M1071.1 651.8v4M1081.6 651.8v4M1092.1 651.8v4M1113.1 651.8v4M1123.7 651.8v4M1134.2 651.8v4M1144.7 651.8v4M1165.8 651.8v4M1176.3 651.8v4M1186.8 651.8v4M1197.3 651.8v4M1218.4 651.8v4M1228.9 651.8v4M1239.4 651.8v4M1249.9 651.8v4M1271 651.8v4M1281.5 651.8v4M1292 651.8v4M1302.5 651.8v4" stroke="#000" stroke-width="1.3" fill="none"/>
<text class="tk" x="1036.1" y="423.2" text-anchor="end">200</text>
<text class="tk" x="1036.1" y="481.9" text-anchor="end">150</text>
<text class="tk" x="1036.1" y="540.9" text-anchor="end">100</text>
<text class="tk" x="1036.1" y="599.4" text-anchor="end">50</text>
<text class="tk" x="1036.1" y="650.3" text-anchor="end">0</text>
<text class="tk" x="1051.3" y="676.1" text-anchor="middle">0</text>
<text class="tk" x="1102.1" y="676.1" text-anchor="middle">50K</text>
<text class="tk" x="1155.1" y="676.1" text-anchor="middle">100K</text>
<text class="tk" x="1207.5" y="676.1" text-anchor="middle">150K</text>
<text class="tk" x="1259.3" y="676.1" text-anchor="middle">200K</text>
<text class="tk" x="1299.8" y="676.1" text-anchor="middle">250K</text>
<path d="M1049.4 589.2H1116.2M1118.3 526.9H1155.2M1154.9 554.7H1186.3M1186.6 582.3H1237.3" stroke="#000" stroke-width="1.9" fill="none"/>
<path d="M1049.4 583.7v11M1116.2 583.7v11M1118.3 521.4v11M1155.2 521.4v11M1154.9 549.2v11M1186.3 549.2v11M1186.6 576.8v11M1237.3 576.8v11" stroke="#000" stroke-width="2" fill="none"/>
</g>
<g id="r3c1">
<path d="M110 954.6L110 954.6L112.4 950.1L115.4 946.5L119.3 944.1L122.3 945L125.9 948L129.5 951L133.4 952.5L137.9 954L142.4 955.2L160.4 954.6L163.3 953.1L167.8 951.6L172.3 952.2L175.3 951.6L177.7 947.1L179.8 933.6L181.9 909.6L184 876.7L186.1 840.7L188.2 804.8L190.3 771.9L192.1 744.9L193.9 725.4L195.4 714.9L196.6 711.9L197.8 719.4L199 738.9L200.2 765.9L201.7 798.8L203.2 831.8L204.7 861.7L206.2 885.7L207.7 903.7L209.2 914.1L211.3 919.2L214.3 923.1L217.3 924.6L220.3 924.6L223.3 928.2L227.8 929.1L230.7 930L234.3 928.2L237.3 926.1L239.7 927.6L242.7 924.6L245.7 922.5L249.3 923.1L252.3 921L255.3 918.6L258.3 918L261.3 917.1L263.7 911.1L265.5 909.6L267.3 912L269.7 913.2L272.7 915.6L275.7 917.1L278.1 923.1L280.5 927.6L283.2 932.1L286.2 936.6L289.2 939.6L292.2 944.1L295.2 948.6L299.6 951.6L305.6 953.1L311.6 954.6L340.1 955.2L370 955.2L373 953.1L376 949.2L377.5 948.6L377.5 954.6Z" fill="#8e8e8e" stroke="none"/>
<path d="M110 954.6L112.4 950.1L115.4 946.5L119.3 944.1L122.3 945L125.9 948L129.5 951L133.4 952.5L137.9 954L142.4 955.2L160.4 954.6L163.3 953.1L167.8 951.6L172.3 952.2L175.3 951.6L177.7 947.1L179.8 933.6L181.9 909.6L184 876.7L186.1 840.7L188.2 804.8L190.3 771.9L192.1 744.9L193.9 725.4L195.4 714.9L196.6 711.9L197.8 719.4L199 738.9L200.2 765.9L201.7 798.8L203.2 831.8L204.7 861.7L206.2 885.7L207.7 903.7L209.2 914.1L211.3 919.2L214.3 923.1L217.3 924.6L220.3 924.6L223.3 928.2L227.8 929.1L230.7 930L234.3 928.2L237.3 926.1L239.7 927.6L242.7 924.6L245.7 922.5L249.3 923.1L252.3 921L255.3 918.6L258.3 918L261.3 917.1L263.7 911.1L265.5 909.6L267.3 912L269.7 913.2L272.7 915.6L275.7 917.1L278.1 923.1L280.5 927.6L283.2 932.1L286.2 936.6L289.2 939.6L292.2 944.1L295.2 948.6L299.6 951.6L305.6 953.1L311.6 954.6L340.1 955.2L370 955.2L373 953.1L376 949.2L377.5 948.6" fill="none" stroke="#0a0a0a" stroke-width="1.7" stroke-linejoin="round"/>
<rect x="109.4" y="688.6" width="268.1" height="266.6" fill="none" stroke="#222" stroke-width="1"/>
<path d="M109.4 688.6V955.2H377.5" fill="none" stroke="#000" stroke-width="1.4"/>
<path d="M377.1 688.6V955.2" fill="none" stroke="#000" stroke-width="1.8"/>
<path d="M109.4 954.6h-8.3M109.4 895.4h-8.3M109.4 836.3h-8.3M109.4 777.1h-8.3M109.4 717.9h-8.3M110 955.2v6.8M163.8 955.2v6.8M217.6 955.2v6.8M271.3 955.2v6.8M325.1 955.2v6.8" stroke="#000" stroke-width="2.1" fill="none"/>
<path d="M109.4 939.8h-4.2M109.4 925h-4.2M109.4 910.2h-4.2M109.4 880.6h-4.2M109.4 865.8h-4.2M109.4 851h-4.2M109.4 821.5h-4.2M109.4 806.7h-4.2M109.4 791.9h-4.2M109.4 762.3h-4.2M109.4 747.5h-4.2M109.4 732.7h-4.2M109.4 703.1h-4.2M109.4 688.3h-4.2M123.5 955.2v4M136.9 955.2v4M150.4 955.2v4M177.2 955.2v4M190.7 955.2v4M204.1 955.2v4M231 955.2v4M244.5 955.2v4M257.9 955.2v4M284.8 955.2v4M298.2 955.2v4M311.7 955.2v4M338.6 955.2v4M352 955.2v4M365.4 955.2v4" stroke="#000" stroke-width="1.3" fill="none"/>
<text class="tk" x="96.1" y="725.1" text-anchor="end">400</text>
<text class="tk" x="96.1" y="784.4" text-anchor="end">300</text>
<text class="tk" x="96.1" y="843.5" text-anchor="end">200</text>
<text class="tk" x="96.1" y="902.5" text-anchor="end">100</text>
<text class="tk" x="96.1" y="954.3" text-anchor="end">0</text>
<text class="tk" x="111.3" y="979.5" text-anchor="middle">0</text>
<text class="tk" x="163.5" y="979.5" text-anchor="middle">100K</text>
<text class="tk" x="216.6" y="979.5" text-anchor="middle">200K</text>
<text class="tk" x="270.8" y="979.5" text-anchor="middle">300K</text>
<text class="tk" x="325.3" y="979.5" text-anchor="middle">400K</text>
<path d="M110 918H176.8M176.8 852.7H213.7M212.8 873.1H238.2M237.9 902.2H296.7" stroke="#000" stroke-width="1.9" fill="none"/>
<path d="M110 912.5v11M176.8 912.5v11M176.8 847.2v11M213.7 847.2v11M212.8 867.6v11M238.2 867.6v11M237.9 896.7v11M296.7 896.7v11" stroke="#000" stroke-width="2" fill="none"/>
</g>
<g id="r3c2">
<path d="M425.8 955.5L425.8 955.2L428.5 951.6L431.5 945.6L434.5 943.5L437.5 944.1L441.4 947.1L445.9 949.2L450.4 951.6L454.9 954L459.4 955.5L481.9 955.5L487.8 954.6L492.3 953.1L495.3 950.1L497.4 944.1L499.2 933.6L501 918.6L502.8 894.7L504.9 861.7L507 825.8L509.1 789.8L510.9 756.9L512.7 729.9L514.2 714.9L515.4 708.9L516.3 708.3L517.2 711.9L518.4 726.9L519.9 753.9L521.4 786.8L522.9 819.8L524.4 852.7L525.9 879.7L527.4 900.7L528.9 915.6L530.7 923.1L532.8 927L535.8 929.1L538.8 928.2L541.8 928.5L544.8 930L547.8 930.6L550.7 929.4L554.3 929.1L557.3 929.7L561.2 932.1L565.1 934.2L568.7 936L572.3 934.2L576.2 933L580.1 933.6L583.7 931.2L586.7 929.1L589.7 929.4L592.7 932.1L596.3 931.5L598.7 932.1L601.7 936.6L604.7 940.2L607.7 940.2L610.7 942.6L613.7 947.1L618.1 951L622.6 953.1L628.6 954.6L634.6 955.5L658.6 956.1L670.6 956.1L676.6 955.5L682.6 956.1L688.5 954.6L691.5 951.6L693.6 948.6L693.6 955.5Z" fill="#8e8e8e" stroke="none"/>
<path d="M425.8 955.2L428.5 951.6L431.5 945.6L434.5 943.5L437.5 944.1L441.4 947.1L445.9 949.2L450.4 951.6L454.9 954L459.4 955.5L481.9 955.5L487.8 954.6L492.3 953.1L495.3 950.1L497.4 944.1L499.2 933.6L501 918.6L502.8 894.7L504.9 861.7L507 825.8L509.1 789.8L510.9 756.9L512.7 729.9L514.2 714.9L515.4 708.9L516.3 708.3L517.2 711.9L518.4 726.9L519.9 753.9L521.4 786.8L522.9 819.8L524.4 852.7L525.9 879.7L527.4 900.7L528.9 915.6L530.7 923.1L532.8 927L535.8 929.1L538.8 928.2L541.8 928.5L544.8 930L547.8 930.6L550.7 929.4L554.3 929.1L557.3 929.7L561.2 932.1L565.1 934.2L568.7 936L572.3 934.2L576.2 933L580.1 933.6L583.7 931.2L586.7 929.1L589.7 929.4L592.7 932.1L596.3 931.5L598.7 932.1L601.7 936.6L604.7 940.2L607.7 940.2L610.7 942.6L613.7 947.1L618.1 951L622.6 953.1L628.6 954.6L634.6 955.5L658.6 956.1L670.6 956.1L676.6 955.5L682.6 956.1L688.5 954.6L691.5 951.6L693.6 948.6" fill="none" stroke="#0a0a0a" stroke-width="1.7" stroke-linejoin="round"/>
<rect x="425.5" y="688.6" width="268.1" height="267.5" fill="none" stroke="#222" stroke-width="1"/>
<path d="M425.5 688.6V956.1H693.6" fill="none" stroke="#000" stroke-width="1.4"/>
<path d="M693.2 688.6V956.1" fill="none" stroke="#000" stroke-width="1.8"/>
<path d="M425.5 955.2h-8.3M425.5 900.4h-8.3M425.5 845.5h-8.3M425.5 790.7h-8.3M425.5 735.9h-8.3M426.4 956.1v6.8M480 956.1v6.8M533.5 956.1v6.8M587.1 956.1v6.8M640.6 956.1v6.8" stroke="#000" stroke-width="2.1" fill="none"/>
<path d="M425.5 941.5h-4.2M425.5 927.8h-4.2M425.5 914.1h-4.2M425.5 886.7h-4.2M425.5 873h-4.2M425.5 859.2h-4.2M425.5 831.8h-4.2M425.5 818.1h-4.2M425.5 804.4h-4.2M425.5 777h-4.2M425.5 763.3h-4.2M425.5 749.6h-4.2M425.5 722.2h-4.2M425.5 708.5h-4.2M425.5 694.8h-4.2M439.8 956.1v4M453.2 956.1v4M466.6 956.1v4M493.4 956.1v4M506.8 956.1v4M520.1 956.1v4M546.9 956.1v4M560.3 956.1v4M573.7 956.1v4M600.5 956.1v4M613.8 956.1v4M627.2 956.1v4M654 956.1v4M667.4 956.1v4M680.8 956.1v4" stroke="#000" stroke-width="1.3" fill="none"/>
<text class="tk" x="412.2" y="743.1" text-anchor="end">400</text>
<text class="tk" x="412.2" y="798.5" text-anchor="end">300</text>
<text class="tk" x="412.2" y="853.3" text-anchor="end">200</text>
<text class="tk" x="412.2" y="907.9" text-anchor="end">100</text>
<text class="tk" x="412.2" y="954.9" text-anchor="end">0</text>
<text class="tk" x="427.7" y="980.4" text-anchor="middle">0</text>
<text class="tk" x="480" y="980.4" text-anchor="middle">100K</text>
<text class="tk" x="533.6" y="980.4" text-anchor="middle">200K</text>
<text class="tk" x="586.9" y="980.4" text-anchor="middle">300K</text>
<text class="tk" x="640.8" y="980.4" text-anchor="middle">400K</text>
<path d="M426.4 918.6H493.2M493.2 853.3H530.4M528.9 873.7H554.6M553.7 902.8H613.1" stroke="#000" stroke-width="1.9" fill="none"/>
<path d="M426.4 913.1v11M493.2 913.1v11M493.2 847.8v11M530.4 847.8v11M528.9 868.2v11M554.6 868.2v11M553.7 897.3v11M613.1 897.3v11" stroke="#000" stroke-width="2" fill="none"/>
</g>
<g id="r3c3">
<path d="M739.4 954.6L739.4 954.6L741.5 950.1L743.9 944.1L746.3 940.5L748.4 940.2L751.4 942.6L755.3 945.6L759.5 948.6L764.3 951L769.4 952.2L775.4 953.1L782.9 954.6L794.8 954.6L802.3 953.1L806.2 950.1L808.6 944.1L810.4 933.6L812.2 918.6L814 897.7L815.8 870.7L817.9 837.8L820 801.8L822.1 768.9L824.2 741.9L826 722.4L827.5 711.9L828.7 707.4L829.9 713.4L831.1 729.9L832.6 756.9L834.1 786.8L835.6 816.8L837.4 849.7L839.2 879.7L841 903.7L842.8 918.6L844.9 927.6L847.3 932.1L849.7 934.2L851.8 935.1L854.2 933.6L857.2 931.2L860.1 930L863.1 930.6L865.2 929.1L868.2 925.5L871.2 925.2L874.2 924.6L877.2 924.6L880.2 923.1L883.2 922.5L886.2 921L888.6 918L890.7 914.1L892.5 912L894.3 914.1L896.1 917.1L897.9 914.1L899.7 911.1L901.5 910.5L903.3 912L905.7 912L908.7 914.1L911.7 918L914.1 923.1L916.5 928.2L919.2 932.7L922.2 936.6L925.2 941.1L928.1 944.1L931.1 947.1L935.6 950.7L940.1 952.5L946.1 954L953.6 955.2L971.6 955.2L1003.3 955.2L1005.4 952.2L1007.5 948.6L1007.5 954.6Z" fill="#8e8e8e" stroke="none"/>
<path d="M739.4 954.6L741.5 950.1L743.9 944.1L746.3 940.5L748.4 940.2L751.4 942.6L755.3 945.6L759.5 948.6L764.3 951L769.4 952.2L775.4 953.1L782.9 954.6L794.8 954.6L802.3 953.1L806.2 950.1L808.6 944.1L810.4 933.6L812.2 918.6L814 897.7L815.8 870.7L817.9 837.8L820 801.8L822.1 768.9L824.2 741.9L826 722.4L827.5 711.9L828.7 707.4L829.9 713.4L831.1 729.9L832.6 756.9L834.1 786.8L835.6 816.8L837.4 849.7L839.2 879.7L841 903.7L842.8 918.6L844.9 927.6L847.3 932.1L849.7 934.2L851.8 935.1L854.2 933.6L857.2 931.2L860.1 930L863.1 930.6L865.2 929.1L868.2 925.5L871.2 925.2L874.2 924.6L877.2 924.6L880.2 923.1L883.2 922.5L886.2 921L888.6 918L890.7 914.1L892.5 912L894.3 914.1L896.1 917.1L897.9 914.1L899.7 911.1L901.5 910.5L903.3 912L905.7 912L908.7 914.1L911.7 918L914.1 923.1L916.5 928.2L919.2 932.7L922.2 936.6L925.2 941.1L928.1 944.1L931.1 947.1L935.6 950.7L940.1 952.5L946.1 954L953.6 955.2L971.6 955.2L1003.3 955.2L1005.4 952.2L1007.5 948.6" fill="none" stroke="#0a0a0a" stroke-width="1.7" stroke-linejoin="round"/>
<rect x="738.8" y="688" width="268.7" height="267.2" fill="none" stroke="#222" stroke-width="1"/>
<path d="M738.8 688V955.2H1007.5" fill="none" stroke="#000" stroke-width="1.4"/>
<path d="M1007.1 688V955.2" fill="none" stroke="#000" stroke-width="1.8"/>
<path d="M738.8 954.6h-8.3M738.8 895.3h-8.3M738.8 836h-8.3M738.8 776.6h-8.3M738.8 717.3h-8.3M739.4 955.2v6.8M793.3 955.2v6.8M847.3 955.2v6.8M901.2 955.2v6.8M955.1 955.2v6.8" stroke="#000" stroke-width="2.1" fill="none"/>
<path d="M738.8 939.8h-4.2M738.8 924.9h-4.2M738.8 910.1h-4.2M738.8 880.4h-4.2M738.8 865.6h-4.2M738.8 850.8h-4.2M738.8 821.1h-4.2M738.8 806.3h-4.2M738.8 791.5h-4.2M738.8 761.8h-4.2M738.8 747h-4.2M738.8 732.2h-4.2M738.8 702.5h-4.2M738.8 687.7h-4.2M752.9 955.2v4M766.4 955.2v4M779.9 955.2v4M806.8 955.2v4M820.3 955.2v4M833.8 955.2v4M860.7 955.2v4M874.2 955.2v4M887.7 955.2v4M914.7 955.2v4M928.1 955.2v4M941.6 955.2v4M968.6 955.2v4M982.1 955.2v4M995.6 955.2v4" stroke="#000" stroke-width="1.3" fill="none"/>
<text class="tk" x="725.5" y="724.5" text-anchor="end">400</text>
<text class="tk" x="725.5" y="784.1" text-anchor="end">300</text>
<text class="tk" x="725.5" y="842.9" text-anchor="end">200</text>
<text class="tk" x="725.5" y="902.5" text-anchor="end">100</text>
<text class="tk" x="725.5" y="954.3" text-anchor="end">0</text>
<text class="tk" x="740.7" y="979.5" text-anchor="middle">0</text>
<text class="tk" x="792.9" y="979.5" text-anchor="middle">100K</text>
<text class="tk" x="846" y="979.5" text-anchor="middle">200K</text>
<text class="tk" x="900.8" y="979.5" text-anchor="middle">300K</text>
<text class="tk" x="955.3" y="979.5" text-anchor="middle">400K</text>
<path d="M739.4 917.7H807.4M809.5 852.7H846.7M846.4 876.1H871.8M872.1 902.2H932.6" stroke="#000" stroke-width="1.9" fill="none"/>
<path d="M739.4 912.2v11M807.4 912.2v11M809.5 847.2v11M846.7 847.2v11M846.4 870.6v11M871.8 870.6v11M872.1 896.7v11M932.6 896.7v11" stroke="#000" stroke-width="2" fill="none"/>
</g>
<g id="r3c4">
<path d="M1050 954.6L1050 954.6L1051.8 950.1L1053.9 939.6L1056 929.1L1058.1 923.7L1059.9 922.5L1061.7 924L1063.5 930.6L1065.9 935.1L1068.9 939.6L1072.5 944.1L1076.4 948L1080.9 951.6L1085.4 953.7L1092.9 954.6L1101.9 954.6L1115.3 955.2L1121.3 953.1L1125.8 950.1L1128.8 944.1L1130.9 935.1L1132.7 921.6L1134.5 903.7L1136.3 879.7L1138.1 849.7L1139.9 816.8L1141.7 783.8L1143.5 753.9L1145 729.9L1146.2 720.9L1147.4 717.9L1148.3 714.3L1149.5 716.4L1150.7 729.9L1151.9 747.9L1153.4 771.9L1154.9 798.8L1156.4 825.8L1157.9 852.7L1159.4 879.7L1161.2 903.7L1163.3 920.1L1165.7 926.1L1168.7 929.7L1172.2 930L1175.2 928.5L1178.2 930L1183.3 929.7L1186.3 924.6L1189.3 922.5L1192.3 918.6L1195.3 916.2L1198.3 915.6L1201.3 916.2L1204.3 912L1207.3 908.1L1209.7 907.3L1211.8 906.7L1213.6 897.7L1215.7 892.3L1218.1 891.1L1220.5 891.7L1222.3 888.1L1224.7 885.1L1227.7 884.5L1230.1 883.3L1232.2 885.7L1234.6 889.6L1237.3 893.2L1239.6 900.7L1242.6 908.1L1245.6 914.1L1248 920.1L1250.4 927.6L1253.1 933.6L1256.1 939.6L1260 944.1L1263.6 948L1268.1 952.2L1274.1 954.6L1286.1 955.2L1313.3 955.2L1315.7 951.6L1318.1 948L1318.1 954.6Z" fill="#8e8e8e" stroke="none"/>
<path d="M1050 954.6L1051.8 950.1L1053.9 939.6L1056 929.1L1058.1 923.7L1059.9 922.5L1061.7 924L1063.5 930.6L1065.9 935.1L1068.9 939.6L1072.5 944.1L1076.4 948L1080.9 951.6L1085.4 953.7L1092.9 954.6L1101.9 954.6L1115.3 955.2L1121.3 953.1L1125.8 950.1L1128.8 944.1L1130.9 935.1L1132.7 921.6L1134.5 903.7L1136.3 879.7L1138.1 849.7L1139.9 816.8L1141.7 783.8L1143.5 753.9L1145 729.9L1146.2 720.9L1147.4 717.9L1148.3 714.3L1149.5 716.4L1150.7 729.9L1151.9 747.9L1153.4 771.9L1154.9 798.8L1156.4 825.8L1157.9 852.7L1159.4 879.7L1161.2 903.7L1163.3 920.1L1165.7 926.1L1168.7 929.7L1172.2 930L1175.2 928.5L1178.2 930L1183.3 929.7L1186.3 924.6L1189.3 922.5L1192.3 918.6L1195.3 916.2L1198.3 915.6L1201.3 916.2L1204.3 912L1207.3 908.1L1209.7 907.3L1211.8 906.7L1213.6 897.7L1215.7 892.3L1218.1 891.1L1220.5 891.7L1222.3 888.1L1224.7 885.1L1227.7 884.5L1230.1 883.3L1232.2 885.7L1234.6 889.6L1237.3 893.2L1239.6 900.7L1242.6 908.1L1245.6 914.1L1248 920.1L1250.4 927.6L1253.1 933.6L1256.1 939.6L1260 944.1L1263.6 948L1268.1 952.2L1274.1 954.6L1286.1 955.2L1313.3 955.2L1315.7 951.6L1318.1 948" fill="none" stroke="#0a0a0a" stroke-width="1.7" stroke-linejoin="round"/>
<rect x="1049.4" y="688.6" width="268.7" height="266.6" fill="none" stroke="#222" stroke-width="1"/>
<path d="M1049.4 688.6V955.2H1318.1" fill="none" stroke="#000" stroke-width="1.4"/>
<path d="M1317.7 688.6V955.2" fill="none" stroke="#000" stroke-width="1.8"/>
<path d="M1049.4 954h-8.3M1049.4 891.8h-8.3M1049.4 829.7h-8.3M1049.4 767.5h-8.3M1049.4 705.3h-8.3M1050 955.2v6.8M1104.2 955.2v6.8M1158.3 955.2v6.8M1212.5 955.2v6.8M1266.6 955.2v6.8" stroke="#000" stroke-width="2.1" fill="none"/>
<path d="M1049.4 938.4h-4.2M1049.4 922.9h-4.2M1049.4 907.4h-4.2M1049.4 876.3h-4.2M1049.4 860.7h-4.2M1049.4 845.2h-4.2M1049.4 814.1h-4.2M1049.4 798.6h-4.2M1049.4 783h-4.2M1049.4 752h-4.2M1049.4 736.4h-4.2M1049.4 720.9h-4.2M1049.4 689.8h-4.2M1063.6 955.2v4M1077.1 955.2v4M1090.6 955.2v4M1117.7 955.2v4M1131.2 955.2v4M1144.8 955.2v4M1171.9 955.2v4M1185.4 955.2v4M1198.9 955.2v4M1226 955.2v4M1239.5 955.2v4M1253.1 955.2v4M1280.1 955.2v4M1293.7 955.2v4M1307.2 955.2v4" stroke="#000" stroke-width="1.3" fill="none"/>
<text class="tk" x="1036.1" y="712.5" text-anchor="end">400</text>
<text class="tk" x="1036.1" y="774.6" text-anchor="end">300</text>
<text class="tk" x="1036.1" y="836.9" text-anchor="end">200</text>
<text class="tk" x="1036.1" y="898.9" text-anchor="end">100</text>
<text class="tk" x="1036.1" y="953.7" text-anchor="end">0</text>
<text class="tk" x="1051.3" y="979.5" text-anchor="middle">0</text>
<text class="tk" x="1103.5" y="979.5" text-anchor="middle">100K</text>
<text class="tk" x="1156.9" y="979.5" text-anchor="middle">200K</text>
<text class="tk" x="1211.4" y="979.5" text-anchor="middle">300K</text>
<text class="tk" x="1266.8" y="979.5" text-anchor="middle">400K</text>
<path d="M1050 914.7H1128.8M1128.8 852.7H1165.7M1166.9 873.1H1195.3M1195.3 903.1H1261.5" stroke="#000" stroke-width="1.9" fill="none"/>
<path d="M1050 909.2v11M1128.8 909.2v11M1128.8 847.2v11M1165.7 847.2v11M1166.9 867.6v11M1195.3 867.6v11M1195.3 897.6v11M1261.5 897.6v11" stroke="#000" stroke-width="2" fill="none"/>
</g>
<text class="bl" x="118.6" y="266.3" font-size="19.5" textLength="62.2" lengthAdjust="spacingAndGlyphs">SubG1</text>
<text class="bl" x="153.5" y="199.2" font-size="19.5" textLength="25.1" lengthAdjust="spacingAndGlyphs">G1</text>
<text class="bl" x="230" y="223" font-size="19.5" textLength="10.8" lengthAdjust="spacingAndGlyphs">S</text>
<text class="bl" x="308.8" y="266" font-size="19.5" textLength="46.5" lengthAdjust="spacingAndGlyphs">G2M</text>
<text class="" x="217.8" y="42.8" font-size="33" textLength="16.4" lengthAdjust="spacingAndGlyphs">0</text>
<text class="" x="505.5" y="42.8" font-size="33" textLength="66.5" lengthAdjust="spacingAndGlyphs">1.25</text>
<text class="" x="833.5" y="42.8" font-size="33" textLength="47.7" lengthAdjust="spacingAndGlyphs">2.5</text>
<text class="" x="1116" y="42.8" font-size="33" textLength="126" lengthAdjust="spacingAndGlyphs">5 µg/ml</text>
<text class="" x="552" y="1041" font-size="44.5" textLength="318.2" lengthAdjust="spacingAndGlyphs">7AAD intensity</text>
<text transform="translate(48.3 583) rotate(-90)" font-size="47" textLength="125.5" lengthAdjust="spacingAndGlyphs">Count</text>
<g>
<rect x="1491.2" y="318.2" width="12" height="7.3" rx="1.8" fill="#000"/>
<text class="lt" x="1497.2" y="312.8">d</text>
<path d="M1514 290.5V285.7M1510.2 285.7h7.6" stroke="#000" stroke-width="1.6" fill="none"/>
<rect x="1509.1" y="290.3" width="9.8" height="34" fill="#ff0000" stroke="#000" stroke-width="1.6"/>
<text class="lt" x="1514" y="280">c</text>
<path d="M1531.2 275.5V273.6M1527.4 273.6h7.6" stroke="#000" stroke-width="1.6" fill="none"/>
<rect x="1526.3" y="275.3" width="9.8" height="48.9" fill="#00ff00" stroke="#000" stroke-width="1.6"/>
<text class="lt" x="1531.2" y="267.2">b</text>
<path d="M1548.1 159.3V156.7M1544.3 156.7h7.6" stroke="#000" stroke-width="1.6" fill="none"/>
<rect x="1543.2" y="159.1" width="9.8" height="165.2" fill="#ffff00" stroke="#000" stroke-width="1.6"/>
<text class="lt" x="1548.1" y="151">a</text>
<path d="M1594.3 174.9V169.5M1590.5 169.5h7.6" stroke="#000" stroke-width="1.6" fill="none"/>
<rect x="1588.3" y="173.9" width="12" height="151.6" rx="1.8" fill="#000"/>
<text class="lt" x="1594.3" y="162.1">a</text>
<path d="M1611.2 170.5V168.8M1607.4 168.8h7.6" stroke="#000" stroke-width="1.6" fill="none"/>
<rect x="1606.3" y="170.3" width="9.8" height="154" fill="#ff0000" stroke="#000" stroke-width="1.6"/>
<text class="lt" x="1611.2" y="160.6">a</text>
<path d="M1628.4 189.6V183.5M1624.6 183.5h7.6" stroke="#000" stroke-width="1.6" fill="none"/>
<rect x="1623.5" y="189.4" width="9.8" height="134.9" fill="#00ff00" stroke="#000" stroke-width="1.6"/>
<text class="lt" x="1628.4" y="176.5">b</text>
<path d="M1645.2 188V179.7M1641.4 179.7h7.6" stroke="#000" stroke-width="1.6" fill="none"/>
<rect x="1640.3" y="187.8" width="9.8" height="136.5" fill="#ffff00" stroke="#000" stroke-width="1.6"/>
<text class="lt" x="1645.2" y="173.9">b</text>
<path d="M1691.4 276.8V271.4M1687.6 271.4h7.6" stroke="#000" stroke-width="1.6" fill="none"/>
<rect x="1685.4" y="275.8" width="12" height="49.7" rx="1.8" fill="#000"/>
<text class="lt" x="1691.4" y="264.7">c</text>
<path d="M1708.3 268.5V266.9M1704.5 266.9h7.6" stroke="#000" stroke-width="1.6" fill="none"/>
<rect x="1703.4" y="268.3" width="9.8" height="55.9" fill="#ff0000" stroke="#000" stroke-width="1.6"/>
<text class="lt" x="1708.3" y="259.9">c</text>
<path d="M1725.5 256.4V254.8M1721.7 254.8h7.6" stroke="#000" stroke-width="1.6" fill="none"/>
<rect x="1720.6" y="256.2" width="9.8" height="68" fill="#00ff00" stroke="#000" stroke-width="1.6"/>
<text class="lt" x="1725.5" y="248.1">b</text>
<path d="M1742.4 238.6V231.2M1738.6 231.2h7.6" stroke="#000" stroke-width="1.6" fill="none"/>
<rect x="1737.5" y="238.4" width="9.8" height="85.9" fill="#ffff00" stroke="#000" stroke-width="1.6"/>
<text class="lt" x="1742.4" y="223.3">a</text>
<path d="M1788.5 207.1V205.4M1784.7 205.4h7.6" stroke="#000" stroke-width="1.6" fill="none"/>
<rect x="1782.5" y="206.1" width="12" height="119.4" rx="1.8" fill="#000"/>
<text class="lt" x="1788.5" y="200.4">a</text>
<path d="M1805.4 218.9V217.2M1801.6 217.2h7.6" stroke="#000" stroke-width="1.6" fill="none"/>
<rect x="1800.5" y="218.7" width="9.8" height="105.6" fill="#ff0000" stroke="#000" stroke-width="1.6"/>
<text class="lt" x="1805.4" y="209.3">b</text>
<path d="M1822.6 212.8V207M1818.8 207h7.6" stroke="#000" stroke-width="1.6" fill="none"/>
<rect x="1817.7" y="212.6" width="9.8" height="111.7" fill="#00ff00" stroke="#000" stroke-width="1.6"/>
<text class="lt" x="1822.6" y="182.2">a</text>
<text class="lt" x="1822.6" y="200.4">b</text>
<path d="M1839.5 231.6V230M1835.7 230h7.6" stroke="#000" stroke-width="1.6" fill="none"/>
<rect x="1834.6" y="231.4" width="9.8" height="92.9" fill="#ffff00" stroke="#000" stroke-width="1.6"/>
<text class="lt" x="1839.5" y="223.3">c</text>
<rect x="1473.8" y="323.5" width="389.7" height="6" fill="#fff"/>
<rect x="1474.8" y="43.4" width="387.7" height="280.1" fill="none" stroke="#000" stroke-width="1.9"/>
<text class="ax" x="1459" y="330.1" text-anchor="end">0</text>
<text class="ax" x="1459" y="267.1" text-anchor="end">20</text>
<text class="ax" x="1459" y="204" text-anchor="end">40</text>
<text class="ax" x="1459" y="141" text-anchor="end">60</text>
<text class="ax" x="1459" y="78" text-anchor="end">80</text>
<text class="ct" x="1493.2" y="355.3" textLength="59.5" lengthAdjust="spacingAndGlyphs">subG1</text>
<text class="ct" x="1608.1" y="355.3" textLength="24" lengthAdjust="spacingAndGlyphs">G1</text>
<text class="ct" x="1710.9" y="355.3" textLength="12.6" lengthAdjust="spacingAndGlyphs">S</text>
<text class="ct" x="1793" y="355.3" textLength="42.5" lengthAdjust="spacingAndGlyphs">G2M</text>
<path d="M1474.8 323.5h-5.5M1474.8 260.5h-5.5M1474.8 197.4h-5.5M1474.8 134.4h-5.5M1474.8 71.4h-5.5M1522.6 323.5v5M1619.8 323.5v5M1716.9 323.5v5M1814 323.5v5" stroke="#000" stroke-width="1.8" fill="none"/>
<rect x="1484.5" y="54" width="36.5" height="9.3" rx="2" fill="#000"/>
<text class="lg" x="1528.8" y="63.5">0</text>
<rect x="1485.3" y="74.2" width="34.9" height="7.4" fill="#ff0000" stroke="#000" stroke-width="1.6"/>
<text class="lg" x="1528.8" y="82.6">1.25</text>
<rect x="1485.3" y="94" width="34.9" height="7.4" fill="#00ff00" stroke="#000" stroke-width="1.6"/>
<text class="lg" x="1528.8" y="102.3">2.5</text>
<rect x="1485.3" y="113.4" width="34.9" height="7.7" fill="#ffff00" stroke="#000" stroke-width="1.6"/>
<text class="lg" x="1528.8" y="122.1">5</text>
<text class="" x="1766.9" y="78.4" font-size="26.5" textLength="85.3" lengthAdjust="spacingAndGlyphs">Ca9-22</text>
<text transform="translate(1379.5 251.9) rotate(-90)" font-size="36.5" textLength="110.5" lengthAdjust="spacingAndGlyphs">Ca9-22</text>
<text transform="translate(1420.7 244.6) rotate(-90)" font-size="26" textLength="122.8" lengthAdjust="spacingAndGlyphs">Count (%)</text>
</g>
<g>
<rect x="1494.4" y="647.2" width="12" height="5.1" rx="1.8" fill="#000"/>
<text class="lt" x="1500.4" y="641.8">b</text>
<rect x="1512.3" y="647.4" width="9.8" height="3.7" fill="#ff0000" stroke="#000" stroke-width="1.6"/>
<text class="lt" x="1517.2" y="641.8">b</text>
<path d="M1534.4 642.2V640.2M1530.6 640.2h7.6" stroke="#000" stroke-width="1.6" fill="none"/>
<rect x="1529.5" y="642" width="9.8" height="9.1" fill="#00ff00" stroke="#000" stroke-width="1.6"/>
<text class="lt" x="1534.4" y="633.8">a</text>
<path d="M1551.3 640.3V635.4M1547.5 635.4h7.6" stroke="#000" stroke-width="1.6" fill="none"/>
<rect x="1546.4" y="640.1" width="9.8" height="11" fill="#ffff00" stroke="#000" stroke-width="1.6"/>
<text class="lt" x="1551.3" y="627.5">a</text>
<rect x="1592.1" y="434.2" width="12" height="218.1" rx="1.8" fill="#000"/>
<text class="lt" x="1598.1" y="424.6">a</text>
<path d="M1615 477.2V468.3M1611.2 468.3h7.6" stroke="#000" stroke-width="1.6" fill="none"/>
<rect x="1610.1" y="477" width="9.8" height="174.1" fill="#ff0000" stroke="#000" stroke-width="1.6"/>
<text class="lt" x="1615" y="460.3">b</text>
<path d="M1632.2 515.4V509.7M1628.4 509.7h7.6" stroke="#000" stroke-width="1.6" fill="none"/>
<rect x="1627.3" y="515.2" width="9.8" height="135.9" fill="#00ff00" stroke="#000" stroke-width="1.6"/>
<text class="lt" x="1632.2" y="503.3">c</text>
<path d="M1649.1 530.4V527.5M1645.3 527.5h7.6" stroke="#000" stroke-width="1.6" fill="none"/>
<rect x="1644.2" y="530.2" width="9.8" height="120.9" fill="#ffff00" stroke="#000" stroke-width="1.6"/>
<text class="lt" x="1649.1" y="521.8">d</text>
<path d="M1695.5 621.1V619.2M1691.7 619.2h7.6" stroke="#000" stroke-width="1.6" fill="none"/>
<rect x="1689.5" y="620.1" width="12" height="32.1" rx="1.8" fill="#000"/>
<text class="lt" x="1695.5" y="611.6">c</text>
<path d="M1712.4 605.9V593.4M1708.6 593.4h7.6" stroke="#000" stroke-width="1.6" fill="none"/>
<rect x="1707.5" y="605.7" width="9.8" height="45.4" fill="#ff0000" stroke="#000" stroke-width="1.6"/>
<text class="lt" x="1712.4" y="586.7">b</text>
<path d="M1729.6 586.4V584.5M1725.8 584.5h7.6" stroke="#000" stroke-width="1.6" fill="none"/>
<rect x="1724.7" y="586.2" width="9.8" height="64.9" fill="#00ff00" stroke="#000" stroke-width="1.6"/>
<text class="lt" x="1729.6" y="579.1">a</text>
<path d="M1746.5 590.3V584.8M1742.7 584.8h7.6" stroke="#000" stroke-width="1.6" fill="none"/>
<rect x="1741.6" y="590.1" width="9.8" height="61" fill="#ffff00" stroke="#000" stroke-width="1.6"/>
<text class="lt" x="1746.5" y="559">a</text>
<text class="lt" x="1746.5" y="579.7">b</text>
<path d="M1793.3 581.3V579.1M1789.5 579.1h7.6" stroke="#000" stroke-width="1.6" fill="none"/>
<rect x="1787.3" y="580.3" width="12" height="72" rx="1.8" fill="#000"/>
<text class="lt" x="1793.3" y="574">d</text>
<path d="M1810.2 557.5V553.6M1806.4 553.6h7.6" stroke="#000" stroke-width="1.6" fill="none"/>
<rect x="1805.3" y="557.3" width="9.8" height="93.8" fill="#ff0000" stroke="#000" stroke-width="1.6"/>
<text class="lt" x="1810.2" y="546.3">c</text>
<path d="M1827.4 538.7V534.2M1823.6 534.2h7.6" stroke="#000" stroke-width="1.6" fill="none"/>
<rect x="1822.5" y="538.5" width="9.8" height="112.6" fill="#00ff00" stroke="#000" stroke-width="1.6"/>
<text class="lt" x="1827.4" y="527.2">b</text>
<path d="M1844.2 519.6V515.1M1840.4 515.1h7.6" stroke="#000" stroke-width="1.6" fill="none"/>
<rect x="1839.3" y="519.4" width="9.8" height="131.7" fill="#ffff00" stroke="#000" stroke-width="1.6"/>
<text class="lt" x="1844.2" y="509">a</text>
<rect x="1477.7" y="650.3" width="389.6" height="6" fill="#fff"/>
<rect x="1478.7" y="370.5" width="387.6" height="279.8" fill="none" stroke="#000" stroke-width="1.9"/>
<text class="ax" x="1462.9" y="656.9" text-anchor="end">0</text>
<text class="ax" x="1462.9" y="594" text-anchor="end">20</text>
<text class="ax" x="1462.9" y="531.2" text-anchor="end">40</text>
<text class="ax" x="1462.9" y="468.3" text-anchor="end">60</text>
<text class="ax" x="1462.9" y="405.4" text-anchor="end">80</text>
<text class="ct" x="1496.4" y="682.1" textLength="59.5" lengthAdjust="spacingAndGlyphs">subG1</text>
<text class="ct" x="1611.9" y="682.1" textLength="24" lengthAdjust="spacingAndGlyphs">G1</text>
<text class="ct" x="1715" y="682.1" textLength="12.6" lengthAdjust="spacingAndGlyphs">S</text>
<text class="ct" x="1797.8" y="682.1" textLength="42.5" lengthAdjust="spacingAndGlyphs">G2M</text>
<path d="M1478.7 650.3h-5.5M1478.7 587.4h-5.5M1478.7 524.6h-5.5M1478.7 461.7h-5.5M1478.7 398.8h-5.5M1525.8 650.3v5M1623.6 650.3v5M1721 650.3v5M1818.8 650.3v5" stroke="#000" stroke-width="1.8" fill="none"/>
<rect x="1488" y="381.2" width="36.9" height="9.3" rx="2" fill="#000"/>
<text class="lg" x="1532.3" y="390.6">0</text>
<rect x="1488.8" y="401.4" width="35.3" height="7.7" fill="#ff0000" stroke="#000" stroke-width="1.6"/>
<text class="lg" x="1532.3" y="410.1">1.25</text>
<rect x="1488.8" y="420.8" width="35.3" height="7.7" fill="#00ff00" stroke="#000" stroke-width="1.6"/>
<text class="lg" x="1532.3" y="429.5">2.5</text>
<rect x="1488.8" y="440.5" width="35.3" height="7.4" fill="#ffff00" stroke="#000" stroke-width="1.6"/>
<text class="lg" x="1532.3" y="448.9">5</text>
<text class="" x="1769.4" y="405.5" font-size="26.5" textLength="86.9" lengthAdjust="spacingAndGlyphs">CAL 27</text>
<text transform="translate(1377.6 572.5) rotate(-90)" font-size="36.5" textLength="113" lengthAdjust="spacingAndGlyphs">CAL 27</text>
<text transform="translate(1425.2 571.4) rotate(-90)" font-size="26" textLength="122.3" lengthAdjust="spacingAndGlyphs">Count (%)</text>
</g>
<g>
<path d="M1500.4 962.6V961M1496.6 961h7.6" stroke="#000" stroke-width="1.6" fill="none"/>
<rect x="1494.4" y="961.6" width="12" height="14.3" rx="1.8" fill="#000"/>
<text class="lt" x="1500.4" y="955.9">c</text>
<path d="M1517.2 961V958.4M1513.4 958.4h7.6" stroke="#000" stroke-width="1.6" fill="none"/>
<rect x="1512.3" y="960.8" width="9.8" height="13.9" fill="#ff0000" stroke="#000" stroke-width="1.6"/>
<text class="lt" x="1517.2" y="938.4">b</text>
<text class="lt" x="1517.2" y="954.9">c</text>
<path d="M1534.4 959.4V957.5M1530.6 957.5h7.6" stroke="#000" stroke-width="1.6" fill="none"/>
<rect x="1529.5" y="959.2" width="9.8" height="15.5" fill="#00ff00" stroke="#000" stroke-width="1.6"/>
<text class="lt" x="1534.4" y="951.1">b</text>
<path d="M1551.3 950.5V948.6M1547.5 948.6h7.6" stroke="#000" stroke-width="1.6" fill="none"/>
<rect x="1546.4" y="950.3" width="9.8" height="24.4" fill="#ffff00" stroke="#000" stroke-width="1.6"/>
<text class="lt" x="1551.3" y="942.5">a</text>
<path d="M1598.1 790.3V783.3M1594.3 783.3h7.6" stroke="#000" stroke-width="1.6" fill="none"/>
<rect x="1592.1" y="789.3" width="12" height="186.6" rx="1.8" fill="#000"/>
<text class="lt" x="1598.1" y="777.6">b</text>
<path d="M1615 767.7V766.1M1611.2 766.1h7.6" stroke="#000" stroke-width="1.6" fill="none"/>
<rect x="1610.1" y="767.5" width="9.8" height="207.2" fill="#ff0000" stroke="#000" stroke-width="1.6"/>
<text class="lt" x="1615" y="760.1">a</text>
<path d="M1632.2 774.7V772.8M1628.4 772.8h7.6" stroke="#000" stroke-width="1.6" fill="none"/>
<rect x="1627.3" y="774.5" width="9.8" height="200.2" fill="#00ff00" stroke="#000" stroke-width="1.6"/>
<text class="lt" x="1632.2" y="765.8">a</text>
<path d="M1649.1 813.3V809.4M1645.3 809.4h7.6" stroke="#000" stroke-width="1.6" fill="none"/>
<rect x="1644.2" y="813.1" width="9.8" height="161.7" fill="#ffff00" stroke="#000" stroke-width="1.6"/>
<text class="lt" x="1649.1" y="804.6">c</text>
<path d="M1695.5 938.4V933M1691.7 933h7.6" stroke="#000" stroke-width="1.6" fill="none"/>
<rect x="1689.5" y="937.4" width="12" height="38.5" rx="1.8" fill="#000"/>
<text class="lt" x="1695.5" y="927.2">a</text>
<path d="M1712.4 937.1V933.6M1708.6 933.6h7.6" stroke="#000" stroke-width="1.6" fill="none"/>
<rect x="1707.5" y="936.9" width="9.8" height="37.8" fill="#ff0000" stroke="#000" stroke-width="1.6"/>
<text class="lt" x="1712.4" y="927.2">a</text>
<path d="M1729.6 944.8V939M1725.8 939h7.6" stroke="#000" stroke-width="1.6" fill="none"/>
<rect x="1724.7" y="944.6" width="9.8" height="30.1" fill="#00ff00" stroke="#000" stroke-width="1.6"/>
<text class="lt" x="1729.6" y="932">a</text>
<path d="M1746.5 943.2V940M1742.7 940h7.6" stroke="#000" stroke-width="1.6" fill="none"/>
<rect x="1741.6" y="943" width="9.8" height="31.7" fill="#ffff00" stroke="#000" stroke-width="1.6"/>
<text class="lt" x="1746.5" y="932">a</text>
<path d="M1793.3 882.1V879.8M1789.5 879.8h7.6" stroke="#000" stroke-width="1.6" fill="none"/>
<rect x="1787.3" y="881.1" width="12" height="94.9" rx="1.8" fill="#000"/>
<text class="lt" x="1793.3" y="873.1">b</text>
<path d="M1810.2 907.5V903.3M1806.4 903.3h7.6" stroke="#000" stroke-width="1.6" fill="none"/>
<rect x="1805.3" y="907.3" width="9.8" height="67.4" fill="#ff0000" stroke="#000" stroke-width="1.6"/>
<text class="lt" x="1810.2" y="897">d</text>
<path d="M1827.4 892.6V887.7M1823.6 887.7h7.6" stroke="#000" stroke-width="1.6" fill="none"/>
<rect x="1822.5" y="892.4" width="9.8" height="82.4" fill="#00ff00" stroke="#000" stroke-width="1.6"/>
<text class="lt" x="1827.4" y="880.1">c</text>
<path d="M1844.2 855.9V852.7M1840.4 852.7h7.6" stroke="#000" stroke-width="1.6" fill="none"/>
<rect x="1839.3" y="855.7" width="9.8" height="119" fill="#ffff00" stroke="#000" stroke-width="1.6"/>
<text class="lt" x="1844.2" y="845.1">a</text>
<rect x="1477.7" y="973.9" width="390.1" height="6" fill="#fff"/>
<rect x="1478.7" y="694.5" width="388.1" height="279.5" fill="none" stroke="#000" stroke-width="1.9"/>
<text class="ax" x="1462.9" y="980.5" text-anchor="end">0</text>
<text class="ax" x="1462.9" y="917.7" text-anchor="end">20</text>
<text class="ax" x="1462.9" y="854.8" text-anchor="end">40</text>
<text class="ax" x="1462.9" y="791.9" text-anchor="end">60</text>
<text class="ax" x="1462.9" y="729.1" text-anchor="end">80</text>
<text class="ct" x="1496.4" y="1005.7" textLength="59.5" lengthAdjust="spacingAndGlyphs">subG1</text>
<text class="ct" x="1611.9" y="1005.7" textLength="24" lengthAdjust="spacingAndGlyphs">G1</text>
<text class="ct" x="1715" y="1005.7" textLength="12.6" lengthAdjust="spacingAndGlyphs">S</text>
<text class="ct" x="1797.8" y="1005.7" textLength="42.5" lengthAdjust="spacingAndGlyphs">G2M</text>
<path d="M1478.7 973.9h-5.5M1478.7 911.1h-5.5M1478.7 848.2h-5.5M1478.7 785.3h-5.5M1478.7 722.5h-5.5M1525.8 973.9v5M1623.6 973.9v5M1721 973.9v5M1818.8 973.9v5" stroke="#000" stroke-width="1.8" fill="none"/>
<rect x="1488" y="704.8" width="36.9" height="9.3" rx="2" fill="#000"/>
<text class="lg" x="1532.3" y="714.3">0</text>
<rect x="1488.8" y="725.3" width="35.3" height="7.4" fill="#ff0000" stroke="#000" stroke-width="1.6"/>
<text class="lg" x="1532.3" y="733.7">1.25</text>
<rect x="1488.8" y="744.7" width="35.3" height="7.7" fill="#00ff00" stroke="#000" stroke-width="1.6"/>
<text class="lg" x="1532.3" y="753.4">2.5</text>
<rect x="1488.8" y="764.5" width="35.3" height="7.4" fill="#ffff00" stroke="#000" stroke-width="1.6"/>
<text class="lg" x="1532.3" y="772.9">5</text>
<text class="" x="1808.9" y="727.3" font-size="26.5" textLength="44.6" lengthAdjust="spacingAndGlyphs">S-G</text>
<text transform="translate(1377.2 851) rotate(-90)" font-size="36.5" textLength="55.7" lengthAdjust="spacingAndGlyphs">S-G</text>
<text transform="translate(1425.8 895.1) rotate(-90)" font-size="26" textLength="122.9" lengthAdjust="spacingAndGlyphs">Count (%)</text>
</g>
</svg></body></html>
